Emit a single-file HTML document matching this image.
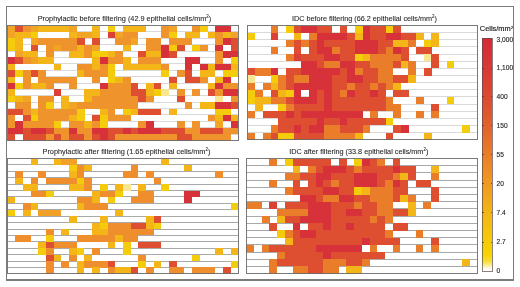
<!DOCTYPE html>
<html><head><meta charset="utf-8">
<style>
html,body{margin:0;padding:0;background:#fff;}
body{width:520px;height:287px;overflow:hidden;}
svg{display:block;filter:blur(0.35px);}
.ti{font-family:"Liberation Sans",sans-serif;font-size:7.5px;fill:#262626;stroke:#262626;stroke-width:0.08px;}
.sup{font-size:4.6px;}
.sup2{font-size:4px;}
.cl{font-family:"Liberation Sans",sans-serif;font-size:6.4px;fill:#222;stroke:#222;stroke-width:0.15px;}
.tk{font-family:"Liberation Sans",sans-serif;font-size:6.6px;fill:#222;stroke:#222;stroke-width:0.12px;}
</style></head>
<body>
<svg width="520" height="287" viewBox="0 0 520 287" shape-rendering="crispEdges">
<rect width="520" height="287" fill="#fff"/>
<rect x="7.50" y="25.50" width="230.90" height="115.00" fill="#fff"/>
<line x1="7.50" x2="238.40" y1="31.89" y2="31.89" stroke="#d9d9d9" stroke-width="1"/>
<line x1="7.50" x2="238.40" y1="38.28" y2="38.28" stroke="#d9d9d9" stroke-width="1"/>
<line x1="7.50" x2="238.40" y1="44.67" y2="44.67" stroke="#d9d9d9" stroke-width="1"/>
<line x1="7.50" x2="238.40" y1="51.06" y2="51.06" stroke="#d9d9d9" stroke-width="1"/>
<line x1="7.50" x2="238.40" y1="57.44" y2="57.44" stroke="#d9d9d9" stroke-width="1"/>
<line x1="7.50" x2="238.40" y1="63.83" y2="63.83" stroke="#d9d9d9" stroke-width="1"/>
<line x1="7.50" x2="238.40" y1="70.22" y2="70.22" stroke="#d9d9d9" stroke-width="1"/>
<line x1="7.50" x2="238.40" y1="76.61" y2="76.61" stroke="#d9d9d9" stroke-width="1"/>
<line x1="7.50" x2="238.40" y1="83.00" y2="83.00" stroke="#d9d9d9" stroke-width="1"/>
<line x1="7.50" x2="238.40" y1="89.39" y2="89.39" stroke="#d9d9d9" stroke-width="1"/>
<line x1="7.50" x2="238.40" y1="95.78" y2="95.78" stroke="#d9d9d9" stroke-width="1"/>
<line x1="7.50" x2="238.40" y1="102.17" y2="102.17" stroke="#d9d9d9" stroke-width="1"/>
<line x1="7.50" x2="238.40" y1="108.56" y2="108.56" stroke="#d9d9d9" stroke-width="1"/>
<line x1="7.50" x2="238.40" y1="114.94" y2="114.94" stroke="#d9d9d9" stroke-width="1"/>
<line x1="7.50" x2="238.40" y1="121.33" y2="121.33" stroke="#d9d9d9" stroke-width="1"/>
<line x1="7.50" x2="238.40" y1="127.72" y2="127.72" stroke="#d9d9d9" stroke-width="1"/>
<line x1="7.50" x2="238.40" y1="134.11" y2="134.11" stroke="#d9d9d9" stroke-width="1"/>
<rect x="7.50" y="25.50" width="7.75" height="6.44" fill="#f2a426"/>
<rect x="15.20" y="25.50" width="7.75" height="6.44" fill="#de4e31"/>
<rect x="22.89" y="25.50" width="7.75" height="6.44" fill="#ef932c"/>
<rect x="30.59" y="25.50" width="7.75" height="6.44" fill="#f2a426"/>
<rect x="38.29" y="25.50" width="7.75" height="6.44" fill="#f3b518"/>
<rect x="45.98" y="25.50" width="7.75" height="6.44" fill="#f3b518"/>
<rect x="53.68" y="25.50" width="7.75" height="6.44" fill="#f3b518"/>
<rect x="61.38" y="25.50" width="7.75" height="6.44" fill="#f3b518"/>
<rect x="69.07" y="25.50" width="7.75" height="6.44" fill="#f2a426"/>
<rect x="92.16" y="25.50" width="7.75" height="6.44" fill="#f3b518"/>
<rect x="107.56" y="25.50" width="7.75" height="6.44" fill="#f5cc0c"/>
<rect x="122.95" y="25.50" width="7.75" height="6.44" fill="#f3b518"/>
<rect x="130.65" y="25.50" width="7.75" height="6.44" fill="#f3b518"/>
<rect x="138.34" y="25.50" width="7.75" height="6.44" fill="#f3b518"/>
<rect x="161.43" y="25.50" width="7.75" height="6.44" fill="#ef932c"/>
<rect x="169.13" y="25.50" width="7.75" height="6.44" fill="#f2a426"/>
<rect x="192.22" y="25.50" width="7.75" height="6.44" fill="#ef932c"/>
<rect x="199.92" y="25.50" width="7.75" height="6.44" fill="#f5cc0c"/>
<rect x="215.31" y="25.50" width="7.75" height="6.44" fill="#d7323a"/>
<rect x="223.01" y="25.50" width="7.75" height="6.44" fill="#d7323a"/>
<rect x="7.50" y="31.89" width="7.75" height="6.44" fill="#f2a426"/>
<rect x="15.20" y="31.89" width="7.75" height="6.44" fill="#f3b518"/>
<rect x="22.89" y="31.89" width="7.75" height="6.44" fill="#f3b518"/>
<rect x="30.59" y="31.89" width="7.75" height="6.44" fill="#f5cc0c"/>
<rect x="69.07" y="31.89" width="7.75" height="6.44" fill="#f3b518"/>
<rect x="76.77" y="31.89" width="7.75" height="6.44" fill="#f2a426"/>
<rect x="84.47" y="31.89" width="7.75" height="6.44" fill="#f2a426"/>
<rect x="92.16" y="31.89" width="7.75" height="6.44" fill="#f3b518"/>
<rect x="107.56" y="31.89" width="7.75" height="6.44" fill="#da4034"/>
<rect x="115.25" y="31.89" width="7.75" height="6.44" fill="#f2a426"/>
<rect x="122.95" y="31.89" width="7.75" height="6.44" fill="#ef932c"/>
<rect x="130.65" y="31.89" width="7.75" height="6.44" fill="#ef932c"/>
<rect x="161.43" y="31.89" width="7.75" height="6.44" fill="#ef932c"/>
<rect x="169.13" y="31.89" width="7.75" height="6.44" fill="#f5cc0c"/>
<rect x="184.52" y="31.89" width="7.75" height="6.44" fill="#f3b518"/>
<rect x="192.22" y="31.89" width="7.75" height="6.44" fill="#f3b518"/>
<rect x="207.61" y="31.89" width="7.75" height="6.44" fill="#f3b518"/>
<rect x="215.31" y="31.89" width="7.75" height="6.44" fill="#ef932c"/>
<rect x="223.01" y="31.89" width="7.75" height="6.44" fill="#f3b518"/>
<rect x="230.70" y="31.89" width="7.75" height="6.44" fill="#f2a426"/>
<rect x="7.50" y="38.28" width="7.75" height="6.44" fill="#f5cc0c"/>
<rect x="15.20" y="38.28" width="7.75" height="6.44" fill="#f3b518"/>
<rect x="30.59" y="38.28" width="7.75" height="6.44" fill="#f2a426"/>
<rect x="38.29" y="38.28" width="7.75" height="6.44" fill="#ef932c"/>
<rect x="45.98" y="38.28" width="7.75" height="6.44" fill="#ef932c"/>
<rect x="53.68" y="38.28" width="7.75" height="6.44" fill="#ef932c"/>
<rect x="61.38" y="38.28" width="7.75" height="6.44" fill="#ef932c"/>
<rect x="69.07" y="38.28" width="7.75" height="6.44" fill="#ef932c"/>
<rect x="76.77" y="38.28" width="7.75" height="6.44" fill="#de4e31"/>
<rect x="92.16" y="38.28" width="7.75" height="6.44" fill="#de4e31"/>
<rect x="115.25" y="38.28" width="7.75" height="6.44" fill="#ef932c"/>
<rect x="122.95" y="38.28" width="7.75" height="6.44" fill="#ef932c"/>
<rect x="130.65" y="38.28" width="7.75" height="6.44" fill="#f2a426"/>
<rect x="146.04" y="38.28" width="7.75" height="6.44" fill="#ef932c"/>
<rect x="153.74" y="38.28" width="7.75" height="6.44" fill="#ef932c"/>
<rect x="169.13" y="38.28" width="7.75" height="6.44" fill="#ef932c"/>
<rect x="176.83" y="38.28" width="7.75" height="6.44" fill="#ef932c"/>
<rect x="184.52" y="38.28" width="7.75" height="6.44" fill="#ef932c"/>
<rect x="215.31" y="38.28" width="7.75" height="6.44" fill="#ef932c"/>
<rect x="223.01" y="38.28" width="7.75" height="6.44" fill="#d7323a"/>
<rect x="230.70" y="38.28" width="7.75" height="6.44" fill="#de4e31"/>
<rect x="7.50" y="44.67" width="7.75" height="6.44" fill="#f5cc0c"/>
<rect x="15.20" y="44.67" width="7.75" height="6.44" fill="#f3b518"/>
<rect x="30.59" y="44.67" width="7.75" height="6.44" fill="#de4e31"/>
<rect x="45.98" y="44.67" width="7.75" height="6.44" fill="#ef932c"/>
<rect x="53.68" y="44.67" width="7.75" height="6.44" fill="#f2a426"/>
<rect x="61.38" y="44.67" width="7.75" height="6.44" fill="#ef932c"/>
<rect x="69.07" y="44.67" width="7.75" height="6.44" fill="#ef932c"/>
<rect x="76.77" y="44.67" width="7.75" height="6.44" fill="#f3b518"/>
<rect x="84.47" y="44.67" width="7.75" height="6.44" fill="#ef932c"/>
<rect x="92.16" y="44.67" width="7.75" height="6.44" fill="#f2a426"/>
<rect x="122.95" y="44.67" width="7.75" height="6.44" fill="#f3b518"/>
<rect x="146.04" y="44.67" width="7.75" height="6.44" fill="#ef932c"/>
<rect x="153.74" y="44.67" width="7.75" height="6.44" fill="#ef932c"/>
<rect x="161.43" y="44.67" width="7.75" height="6.44" fill="#d7323a"/>
<rect x="169.13" y="44.67" width="7.75" height="6.44" fill="#f5cc0c"/>
<rect x="176.83" y="44.67" width="7.75" height="6.44" fill="#de4e31"/>
<rect x="192.22" y="44.67" width="7.75" height="6.44" fill="#f5cc0c"/>
<rect x="199.92" y="44.67" width="7.75" height="6.44" fill="#ef932c"/>
<rect x="215.31" y="44.67" width="7.75" height="6.44" fill="#d7323a"/>
<rect x="230.70" y="44.67" width="7.75" height="6.44" fill="#de4e31"/>
<rect x="15.20" y="51.06" width="7.75" height="6.44" fill="#f2a426"/>
<rect x="22.89" y="51.06" width="7.75" height="6.44" fill="#f3b518"/>
<rect x="30.59" y="51.06" width="7.75" height="6.44" fill="#f3b518"/>
<rect x="45.98" y="51.06" width="7.75" height="6.44" fill="#ef932c"/>
<rect x="69.07" y="51.06" width="7.75" height="6.44" fill="#f3b518"/>
<rect x="76.77" y="51.06" width="7.75" height="6.44" fill="#f3b518"/>
<rect x="84.47" y="51.06" width="7.75" height="6.44" fill="#ef932c"/>
<rect x="92.16" y="51.06" width="7.75" height="6.44" fill="#f5cc0c"/>
<rect x="99.86" y="51.06" width="7.75" height="6.44" fill="#f5cc0c"/>
<rect x="107.56" y="51.06" width="7.75" height="6.44" fill="#f3b518"/>
<rect x="115.25" y="51.06" width="7.75" height="6.44" fill="#ef932c"/>
<rect x="138.34" y="51.06" width="7.75" height="6.44" fill="#de4e31"/>
<rect x="146.04" y="51.06" width="7.75" height="6.44" fill="#f3b518"/>
<rect x="153.74" y="51.06" width="7.75" height="6.44" fill="#f3b518"/>
<rect x="161.43" y="51.06" width="7.75" height="6.44" fill="#d7323a"/>
<rect x="169.13" y="51.06" width="7.75" height="6.44" fill="#de4e31"/>
<rect x="215.31" y="51.06" width="7.75" height="6.44" fill="#ef932c"/>
<rect x="223.01" y="51.06" width="7.75" height="6.44" fill="#d7323a"/>
<rect x="230.70" y="51.06" width="7.75" height="6.44" fill="#d7323a"/>
<rect x="7.50" y="57.44" width="7.75" height="6.44" fill="#d7323a"/>
<rect x="15.20" y="57.44" width="7.75" height="6.44" fill="#de4e31"/>
<rect x="22.89" y="57.44" width="7.75" height="6.44" fill="#ef932c"/>
<rect x="30.59" y="57.44" width="7.75" height="6.44" fill="#f2a426"/>
<rect x="38.29" y="57.44" width="7.75" height="6.44" fill="#f3b518"/>
<rect x="45.98" y="57.44" width="7.75" height="6.44" fill="#f3b518"/>
<rect x="92.16" y="57.44" width="7.75" height="6.44" fill="#f3b518"/>
<rect x="99.86" y="57.44" width="7.75" height="6.44" fill="#d7323a"/>
<rect x="107.56" y="57.44" width="7.75" height="6.44" fill="#ef932c"/>
<rect x="115.25" y="57.44" width="7.75" height="6.44" fill="#ef932c"/>
<rect x="122.95" y="57.44" width="7.75" height="6.44" fill="#f3b518"/>
<rect x="138.34" y="57.44" width="7.75" height="6.44" fill="#ef932c"/>
<rect x="146.04" y="57.44" width="7.75" height="6.44" fill="#ef932c"/>
<rect x="153.74" y="57.44" width="7.75" height="6.44" fill="#ef932c"/>
<rect x="184.52" y="57.44" width="7.75" height="6.44" fill="#d7323a"/>
<rect x="192.22" y="57.44" width="7.75" height="6.44" fill="#d7323a"/>
<rect x="215.31" y="57.44" width="7.75" height="6.44" fill="#ef932c"/>
<rect x="230.70" y="57.44" width="7.75" height="6.44" fill="#f5cc0c"/>
<rect x="7.50" y="63.83" width="7.75" height="6.44" fill="#f3b518"/>
<rect x="53.68" y="63.83" width="7.75" height="6.44" fill="#f3b518"/>
<rect x="76.77" y="63.83" width="7.75" height="6.44" fill="#ef932c"/>
<rect x="84.47" y="63.83" width="7.75" height="6.44" fill="#ef932c"/>
<rect x="92.16" y="63.83" width="7.75" height="6.44" fill="#f3b518"/>
<rect x="99.86" y="63.83" width="7.75" height="6.44" fill="#ef932c"/>
<rect x="107.56" y="63.83" width="7.75" height="6.44" fill="#f5cc0c"/>
<rect x="122.95" y="63.83" width="7.75" height="6.44" fill="#f3b518"/>
<rect x="130.65" y="63.83" width="7.75" height="6.44" fill="#f3b518"/>
<rect x="138.34" y="63.83" width="7.75" height="6.44" fill="#f3b518"/>
<rect x="146.04" y="63.83" width="7.75" height="6.44" fill="#f3b518"/>
<rect x="153.74" y="63.83" width="7.75" height="6.44" fill="#f3b518"/>
<rect x="161.43" y="63.83" width="7.75" height="6.44" fill="#ef932c"/>
<rect x="184.52" y="63.83" width="7.75" height="6.44" fill="#d7323a"/>
<rect x="199.92" y="63.83" width="7.75" height="6.44" fill="#d7323a"/>
<rect x="207.61" y="63.83" width="7.75" height="6.44" fill="#f3b518"/>
<rect x="215.31" y="63.83" width="7.75" height="6.44" fill="#d7323a"/>
<rect x="223.01" y="63.83" width="7.75" height="6.44" fill="#d7323a"/>
<rect x="230.70" y="63.83" width="7.75" height="6.44" fill="#f3b518"/>
<rect x="7.50" y="70.22" width="7.75" height="6.44" fill="#de4e31"/>
<rect x="15.20" y="70.22" width="7.75" height="6.44" fill="#f5cc0c"/>
<rect x="22.89" y="70.22" width="7.75" height="6.44" fill="#ef932c"/>
<rect x="30.59" y="70.22" width="7.75" height="6.44" fill="#de4e31"/>
<rect x="38.29" y="70.22" width="7.75" height="6.44" fill="#ef932c"/>
<rect x="76.77" y="70.22" width="7.75" height="6.44" fill="#f3b518"/>
<rect x="84.47" y="70.22" width="7.75" height="6.44" fill="#ef932c"/>
<rect x="92.16" y="70.22" width="7.75" height="6.44" fill="#ef932c"/>
<rect x="99.86" y="70.22" width="7.75" height="6.44" fill="#ef932c"/>
<rect x="107.56" y="70.22" width="7.75" height="6.44" fill="#f5cc0c"/>
<rect x="161.43" y="70.22" width="7.75" height="6.44" fill="#f5cc0c"/>
<rect x="176.83" y="70.22" width="7.75" height="6.44" fill="#ef932c"/>
<rect x="184.52" y="70.22" width="7.75" height="6.44" fill="#de4e31"/>
<rect x="199.92" y="70.22" width="7.75" height="6.44" fill="#f3b518"/>
<rect x="207.61" y="70.22" width="7.75" height="6.44" fill="#f3b518"/>
<rect x="223.01" y="70.22" width="7.75" height="6.44" fill="#f5cc0c"/>
<rect x="230.70" y="70.22" width="7.75" height="6.44" fill="#f5cc0c"/>
<rect x="7.50" y="76.61" width="7.75" height="6.44" fill="#f3b518"/>
<rect x="22.89" y="76.61" width="7.75" height="6.44" fill="#ef932c"/>
<rect x="38.29" y="76.61" width="7.75" height="6.44" fill="#ef932c"/>
<rect x="45.98" y="76.61" width="7.75" height="6.44" fill="#ef932c"/>
<rect x="53.68" y="76.61" width="7.75" height="6.44" fill="#ef932c"/>
<rect x="61.38" y="76.61" width="7.75" height="6.44" fill="#ef932c"/>
<rect x="69.07" y="76.61" width="7.75" height="6.44" fill="#ef932c"/>
<rect x="92.16" y="76.61" width="7.75" height="6.44" fill="#ef932c"/>
<rect x="107.56" y="76.61" width="7.75" height="6.44" fill="#f5cc0c"/>
<rect x="115.25" y="76.61" width="7.75" height="6.44" fill="#f3b518"/>
<rect x="122.95" y="76.61" width="7.75" height="6.44" fill="#ef932c"/>
<rect x="169.13" y="76.61" width="7.75" height="6.44" fill="#de4e31"/>
<rect x="184.52" y="76.61" width="7.75" height="6.44" fill="#de4e31"/>
<rect x="192.22" y="76.61" width="7.75" height="6.44" fill="#de4e31"/>
<rect x="199.92" y="76.61" width="7.75" height="6.44" fill="#ef932c"/>
<rect x="215.31" y="76.61" width="7.75" height="6.44" fill="#f3b518"/>
<rect x="223.01" y="76.61" width="7.75" height="6.44" fill="#d7323a"/>
<rect x="7.50" y="83.00" width="7.75" height="6.44" fill="#d7323a"/>
<rect x="15.20" y="83.00" width="7.75" height="6.44" fill="#f5cc0c"/>
<rect x="22.89" y="83.00" width="7.75" height="6.44" fill="#ef932c"/>
<rect x="30.59" y="83.00" width="7.75" height="6.44" fill="#f3b518"/>
<rect x="38.29" y="83.00" width="7.75" height="6.44" fill="#f3b518"/>
<rect x="45.98" y="83.00" width="7.75" height="6.44" fill="#ef932c"/>
<rect x="69.07" y="83.00" width="7.75" height="6.44" fill="#ef932c"/>
<rect x="99.86" y="83.00" width="7.75" height="6.44" fill="#d7323a"/>
<rect x="107.56" y="83.00" width="7.75" height="6.44" fill="#ef932c"/>
<rect x="115.25" y="83.00" width="7.75" height="6.44" fill="#ef932c"/>
<rect x="122.95" y="83.00" width="7.75" height="6.44" fill="#ef932c"/>
<rect x="130.65" y="83.00" width="7.75" height="6.44" fill="#de4e31"/>
<rect x="146.04" y="83.00" width="7.75" height="6.44" fill="#f3b518"/>
<rect x="153.74" y="83.00" width="7.75" height="6.44" fill="#de4e31"/>
<rect x="169.13" y="83.00" width="7.75" height="6.44" fill="#f3b518"/>
<rect x="207.61" y="83.00" width="7.75" height="6.44" fill="#f3b518"/>
<rect x="215.31" y="83.00" width="7.75" height="6.44" fill="#d7323a"/>
<rect x="223.01" y="83.00" width="7.75" height="6.44" fill="#ef932c"/>
<rect x="230.70" y="83.00" width="7.75" height="6.44" fill="#ef932c"/>
<rect x="7.50" y="89.39" width="7.75" height="6.44" fill="#f3b518"/>
<rect x="53.68" y="89.39" width="7.75" height="6.44" fill="#da4034"/>
<rect x="84.47" y="89.39" width="7.75" height="6.44" fill="#f3b518"/>
<rect x="92.16" y="89.39" width="7.75" height="6.44" fill="#f3b518"/>
<rect x="99.86" y="89.39" width="7.75" height="6.44" fill="#ef932c"/>
<rect x="107.56" y="89.39" width="7.75" height="6.44" fill="#ef932c"/>
<rect x="115.25" y="89.39" width="7.75" height="6.44" fill="#ef932c"/>
<rect x="122.95" y="89.39" width="7.75" height="6.44" fill="#ef932c"/>
<rect x="130.65" y="89.39" width="7.75" height="6.44" fill="#de4e31"/>
<rect x="138.34" y="89.39" width="7.75" height="6.44" fill="#de4e31"/>
<rect x="146.04" y="89.39" width="7.75" height="6.44" fill="#f3b518"/>
<rect x="153.74" y="89.39" width="7.75" height="6.44" fill="#f5cc0c"/>
<rect x="161.43" y="89.39" width="7.75" height="6.44" fill="#f9e690"/>
<rect x="176.83" y="89.39" width="7.75" height="6.44" fill="#ef932c"/>
<rect x="192.22" y="89.39" width="7.75" height="6.44" fill="#ef932c"/>
<rect x="207.61" y="89.39" width="7.75" height="6.44" fill="#de4e31"/>
<rect x="215.31" y="89.39" width="7.75" height="6.44" fill="#ef932c"/>
<rect x="223.01" y="89.39" width="7.75" height="6.44" fill="#d7323a"/>
<rect x="230.70" y="89.39" width="7.75" height="6.44" fill="#d7323a"/>
<rect x="7.50" y="95.78" width="7.75" height="6.44" fill="#f5cc0c"/>
<rect x="15.20" y="95.78" width="7.75" height="6.44" fill="#f3b518"/>
<rect x="22.89" y="95.78" width="7.75" height="6.44" fill="#f2a426"/>
<rect x="38.29" y="95.78" width="7.75" height="6.44" fill="#ef932c"/>
<rect x="45.98" y="95.78" width="7.75" height="6.44" fill="#ef932c"/>
<rect x="61.38" y="95.78" width="7.75" height="6.44" fill="#f3b518"/>
<rect x="84.47" y="95.78" width="7.75" height="6.44" fill="#f3b518"/>
<rect x="92.16" y="95.78" width="7.75" height="6.44" fill="#ef932c"/>
<rect x="99.86" y="95.78" width="7.75" height="6.44" fill="#ef932c"/>
<rect x="107.56" y="95.78" width="7.75" height="6.44" fill="#ef932c"/>
<rect x="115.25" y="95.78" width="7.75" height="6.44" fill="#ef932c"/>
<rect x="122.95" y="95.78" width="7.75" height="6.44" fill="#ef932c"/>
<rect x="130.65" y="95.78" width="7.75" height="6.44" fill="#ef932c"/>
<rect x="138.34" y="95.78" width="7.75" height="6.44" fill="#de4e31"/>
<rect x="146.04" y="95.78" width="7.75" height="6.44" fill="#ef932c"/>
<rect x="176.83" y="95.78" width="7.75" height="6.44" fill="#de4e31"/>
<rect x="215.31" y="95.78" width="7.75" height="6.44" fill="#f9e690"/>
<rect x="230.70" y="95.78" width="7.75" height="6.44" fill="#ef932c"/>
<rect x="15.20" y="102.17" width="7.75" height="6.44" fill="#ef932c"/>
<rect x="22.89" y="102.17" width="7.75" height="6.44" fill="#ef932c"/>
<rect x="38.29" y="102.17" width="7.75" height="6.44" fill="#ef932c"/>
<rect x="45.98" y="102.17" width="7.75" height="6.44" fill="#f5cc0c"/>
<rect x="61.38" y="102.17" width="7.75" height="6.44" fill="#f3b518"/>
<rect x="69.07" y="102.17" width="7.75" height="6.44" fill="#f2a426"/>
<rect x="76.77" y="102.17" width="7.75" height="6.44" fill="#ef932c"/>
<rect x="84.47" y="102.17" width="7.75" height="6.44" fill="#ef932c"/>
<rect x="92.16" y="102.17" width="7.75" height="6.44" fill="#ef932c"/>
<rect x="99.86" y="102.17" width="7.75" height="6.44" fill="#ef932c"/>
<rect x="107.56" y="102.17" width="7.75" height="6.44" fill="#ef932c"/>
<rect x="115.25" y="102.17" width="7.75" height="6.44" fill="#ef932c"/>
<rect x="122.95" y="102.17" width="7.75" height="6.44" fill="#ef932c"/>
<rect x="130.65" y="102.17" width="7.75" height="6.44" fill="#ef932c"/>
<rect x="184.52" y="102.17" width="7.75" height="6.44" fill="#ef932c"/>
<rect x="199.92" y="102.17" width="7.75" height="6.44" fill="#f3b518"/>
<rect x="207.61" y="102.17" width="7.75" height="6.44" fill="#f3b518"/>
<rect x="215.31" y="102.17" width="7.75" height="6.44" fill="#d7323a"/>
<rect x="223.01" y="102.17" width="7.75" height="6.44" fill="#d7323a"/>
<rect x="230.70" y="102.17" width="7.75" height="6.44" fill="#de4e31"/>
<rect x="7.50" y="108.56" width="7.75" height="6.44" fill="#de4e31"/>
<rect x="15.20" y="108.56" width="7.75" height="6.44" fill="#de4e31"/>
<rect x="22.89" y="108.56" width="7.75" height="6.44" fill="#ef932c"/>
<rect x="30.59" y="108.56" width="7.75" height="6.44" fill="#f3b518"/>
<rect x="38.29" y="108.56" width="7.75" height="6.44" fill="#ef932c"/>
<rect x="45.98" y="108.56" width="7.75" height="6.44" fill="#ef932c"/>
<rect x="53.68" y="108.56" width="7.75" height="6.44" fill="#ef932c"/>
<rect x="61.38" y="108.56" width="7.75" height="6.44" fill="#ef932c"/>
<rect x="69.07" y="108.56" width="7.75" height="6.44" fill="#ef932c"/>
<rect x="76.77" y="108.56" width="7.75" height="6.44" fill="#f5cc0c"/>
<rect x="99.86" y="108.56" width="7.75" height="6.44" fill="#f3b518"/>
<rect x="107.56" y="108.56" width="7.75" height="6.44" fill="#ef932c"/>
<rect x="122.95" y="108.56" width="7.75" height="6.44" fill="#f5cc0c"/>
<rect x="130.65" y="108.56" width="7.75" height="6.44" fill="#f3b518"/>
<rect x="138.34" y="108.56" width="7.75" height="6.44" fill="#de4e31"/>
<rect x="146.04" y="108.56" width="7.75" height="6.44" fill="#de4e31"/>
<rect x="153.74" y="108.56" width="7.75" height="6.44" fill="#de4e31"/>
<rect x="169.13" y="108.56" width="7.75" height="6.44" fill="#f3b518"/>
<rect x="215.31" y="108.56" width="7.75" height="6.44" fill="#f5cc0c"/>
<rect x="223.01" y="108.56" width="7.75" height="6.44" fill="#f5cc0c"/>
<rect x="7.50" y="114.94" width="7.75" height="6.44" fill="#ef932c"/>
<rect x="22.89" y="114.94" width="7.75" height="6.44" fill="#de4e31"/>
<rect x="30.59" y="114.94" width="7.75" height="6.44" fill="#f5cc0c"/>
<rect x="38.29" y="114.94" width="7.75" height="6.44" fill="#ef932c"/>
<rect x="45.98" y="114.94" width="7.75" height="6.44" fill="#ef932c"/>
<rect x="53.68" y="114.94" width="7.75" height="6.44" fill="#ef932c"/>
<rect x="61.38" y="114.94" width="7.75" height="6.44" fill="#ef932c"/>
<rect x="69.07" y="114.94" width="7.75" height="6.44" fill="#f3b518"/>
<rect x="76.77" y="114.94" width="7.75" height="6.44" fill="#f5cc0c"/>
<rect x="92.16" y="114.94" width="7.75" height="6.44" fill="#de4e31"/>
<rect x="99.86" y="114.94" width="7.75" height="6.44" fill="#f5cc0c"/>
<rect x="107.56" y="114.94" width="7.75" height="6.44" fill="#ef932c"/>
<rect x="115.25" y="114.94" width="7.75" height="6.44" fill="#ef932c"/>
<rect x="122.95" y="114.94" width="7.75" height="6.44" fill="#ef932c"/>
<rect x="207.61" y="114.94" width="7.75" height="6.44" fill="#ef932c"/>
<rect x="215.31" y="114.94" width="7.75" height="6.44" fill="#f3b518"/>
<rect x="223.01" y="114.94" width="7.75" height="6.44" fill="#d7323a"/>
<rect x="230.70" y="114.94" width="7.75" height="6.44" fill="#f3b518"/>
<rect x="7.50" y="121.33" width="7.75" height="6.44" fill="#ef932c"/>
<rect x="15.20" y="121.33" width="7.75" height="6.44" fill="#d7323a"/>
<rect x="22.89" y="121.33" width="7.75" height="6.44" fill="#ef932c"/>
<rect x="30.59" y="121.33" width="7.75" height="6.44" fill="#ef932c"/>
<rect x="38.29" y="121.33" width="7.75" height="6.44" fill="#ef932c"/>
<rect x="45.98" y="121.33" width="7.75" height="6.44" fill="#ef932c"/>
<rect x="53.68" y="121.33" width="7.75" height="6.44" fill="#f5cc0c"/>
<rect x="69.07" y="121.33" width="7.75" height="6.44" fill="#ef932c"/>
<rect x="76.77" y="121.33" width="7.75" height="6.44" fill="#ef932c"/>
<rect x="84.47" y="121.33" width="7.75" height="6.44" fill="#f3b518"/>
<rect x="92.16" y="121.33" width="7.75" height="6.44" fill="#ef932c"/>
<rect x="99.86" y="121.33" width="7.75" height="6.44" fill="#f5cc0c"/>
<rect x="138.34" y="121.33" width="7.75" height="6.44" fill="#ef932c"/>
<rect x="146.04" y="121.33" width="7.75" height="6.44" fill="#d7323a"/>
<rect x="176.83" y="121.33" width="7.75" height="6.44" fill="#ef932c"/>
<rect x="192.22" y="121.33" width="7.75" height="6.44" fill="#ef932c"/>
<rect x="215.31" y="121.33" width="7.75" height="6.44" fill="#f2a426"/>
<rect x="230.70" y="121.33" width="7.75" height="6.44" fill="#d7323a"/>
<rect x="7.50" y="127.72" width="7.75" height="6.44" fill="#d7323a"/>
<rect x="15.20" y="127.72" width="7.75" height="6.44" fill="#d7323a"/>
<rect x="22.89" y="127.72" width="7.75" height="6.44" fill="#de4e31"/>
<rect x="30.59" y="127.72" width="7.75" height="6.44" fill="#d7323a"/>
<rect x="38.29" y="127.72" width="7.75" height="6.44" fill="#d7323a"/>
<rect x="45.98" y="127.72" width="7.75" height="6.44" fill="#de4e31"/>
<rect x="53.68" y="127.72" width="7.75" height="6.44" fill="#ef932c"/>
<rect x="61.38" y="127.72" width="7.75" height="6.44" fill="#ef932c"/>
<rect x="69.07" y="127.72" width="7.75" height="6.44" fill="#d7323a"/>
<rect x="76.77" y="127.72" width="7.75" height="6.44" fill="#ef932c"/>
<rect x="84.47" y="127.72" width="7.75" height="6.44" fill="#ef932c"/>
<rect x="92.16" y="127.72" width="7.75" height="6.44" fill="#d7323a"/>
<rect x="99.86" y="127.72" width="7.75" height="6.44" fill="#d7323a"/>
<rect x="107.56" y="127.72" width="7.75" height="6.44" fill="#de4e31"/>
<rect x="115.25" y="127.72" width="7.75" height="6.44" fill="#de4e31"/>
<rect x="122.95" y="127.72" width="7.75" height="6.44" fill="#d7323a"/>
<rect x="130.65" y="127.72" width="7.75" height="6.44" fill="#de4e31"/>
<rect x="138.34" y="127.72" width="7.75" height="6.44" fill="#d7323a"/>
<rect x="146.04" y="127.72" width="7.75" height="6.44" fill="#d7323a"/>
<rect x="153.74" y="127.72" width="7.75" height="6.44" fill="#d7323a"/>
<rect x="161.43" y="127.72" width="7.75" height="6.44" fill="#de4e31"/>
<rect x="169.13" y="127.72" width="7.75" height="6.44" fill="#de4e31"/>
<rect x="176.83" y="127.72" width="7.75" height="6.44" fill="#de4e31"/>
<rect x="184.52" y="127.72" width="7.75" height="6.44" fill="#ef932c"/>
<rect x="192.22" y="127.72" width="7.75" height="6.44" fill="#ef932c"/>
<rect x="199.92" y="127.72" width="7.75" height="6.44" fill="#de4e31"/>
<rect x="207.61" y="127.72" width="7.75" height="6.44" fill="#de4e31"/>
<rect x="215.31" y="127.72" width="7.75" height="6.44" fill="#de4e31"/>
<rect x="223.01" y="127.72" width="7.75" height="6.44" fill="#ef932c"/>
<rect x="230.70" y="127.72" width="7.75" height="6.44" fill="#ef932c"/>
<rect x="7.50" y="134.11" width="7.75" height="6.44" fill="#de4e31"/>
<rect x="22.89" y="134.11" width="7.75" height="6.44" fill="#de4e31"/>
<rect x="30.59" y="134.11" width="7.75" height="6.44" fill="#de4e31"/>
<rect x="38.29" y="134.11" width="7.75" height="6.44" fill="#de4e31"/>
<rect x="45.98" y="134.11" width="7.75" height="6.44" fill="#ef932c"/>
<rect x="53.68" y="134.11" width="7.75" height="6.44" fill="#de4e31"/>
<rect x="61.38" y="134.11" width="7.75" height="6.44" fill="#ef932c"/>
<rect x="69.07" y="134.11" width="7.75" height="6.44" fill="#de4e31"/>
<rect x="76.77" y="134.11" width="7.75" height="6.44" fill="#de4e31"/>
<rect x="84.47" y="134.11" width="7.75" height="6.44" fill="#ef932c"/>
<rect x="92.16" y="134.11" width="7.75" height="6.44" fill="#de4e31"/>
<rect x="99.86" y="134.11" width="7.75" height="6.44" fill="#d7323a"/>
<rect x="107.56" y="134.11" width="7.75" height="6.44" fill="#de4e31"/>
<rect x="115.25" y="134.11" width="7.75" height="6.44" fill="#ef932c"/>
<rect x="122.95" y="134.11" width="7.75" height="6.44" fill="#ef932c"/>
<rect x="130.65" y="134.11" width="7.75" height="6.44" fill="#ef932c"/>
<rect x="138.34" y="134.11" width="7.75" height="6.44" fill="#ef932c"/>
<rect x="146.04" y="134.11" width="7.75" height="6.44" fill="#ef932c"/>
<rect x="153.74" y="134.11" width="7.75" height="6.44" fill="#ef932c"/>
<rect x="161.43" y="134.11" width="7.75" height="6.44" fill="#ef932c"/>
<rect x="169.13" y="134.11" width="7.75" height="6.44" fill="#ef932c"/>
<rect x="176.83" y="134.11" width="7.75" height="6.44" fill="#de4e31"/>
<rect x="184.52" y="134.11" width="7.75" height="6.44" fill="#de4e31"/>
<rect x="192.22" y="134.11" width="7.75" height="6.44" fill="#ef932c"/>
<rect x="199.92" y="134.11" width="7.75" height="6.44" fill="#ef932c"/>
<rect x="207.61" y="134.11" width="7.75" height="6.44" fill="#ef932c"/>
<rect x="215.31" y="134.11" width="7.75" height="6.44" fill="#ef932c"/>
<rect x="223.01" y="134.11" width="7.75" height="6.44" fill="#ef932c"/>
<rect x="7.50" y="25.50" width="230.90" height="115.00" fill="none" stroke="#6a6a6a" stroke-width="0.9"/>
<rect x="247.70" y="25.50" width="229.70" height="114.20" fill="#fff"/>
<line x1="247.70" x2="477.40" y1="32.64" y2="32.64" stroke="#d9d9d9" stroke-width="1"/>
<line x1="247.70" x2="477.40" y1="39.77" y2="39.77" stroke="#d9d9d9" stroke-width="1"/>
<line x1="247.70" x2="477.40" y1="46.91" y2="46.91" stroke="#d9d9d9" stroke-width="1"/>
<line x1="247.70" x2="477.40" y1="54.05" y2="54.05" stroke="#d9d9d9" stroke-width="1"/>
<line x1="247.70" x2="477.40" y1="61.19" y2="61.19" stroke="#d9d9d9" stroke-width="1"/>
<line x1="247.70" x2="477.40" y1="68.32" y2="68.32" stroke="#d9d9d9" stroke-width="1"/>
<line x1="247.70" x2="477.40" y1="75.46" y2="75.46" stroke="#d9d9d9" stroke-width="1"/>
<line x1="247.70" x2="477.40" y1="82.60" y2="82.60" stroke="#d9d9d9" stroke-width="1"/>
<line x1="247.70" x2="477.40" y1="89.74" y2="89.74" stroke="#d9d9d9" stroke-width="1"/>
<line x1="247.70" x2="477.40" y1="96.88" y2="96.88" stroke="#d9d9d9" stroke-width="1"/>
<line x1="247.70" x2="477.40" y1="104.01" y2="104.01" stroke="#d9d9d9" stroke-width="1"/>
<line x1="247.70" x2="477.40" y1="111.15" y2="111.15" stroke="#d9d9d9" stroke-width="1"/>
<line x1="247.70" x2="477.40" y1="118.29" y2="118.29" stroke="#d9d9d9" stroke-width="1"/>
<line x1="247.70" x2="477.40" y1="125.42" y2="125.42" stroke="#d9d9d9" stroke-width="1"/>
<line x1="247.70" x2="477.40" y1="132.56" y2="132.56" stroke="#d9d9d9" stroke-width="1"/>
<rect x="270.67" y="25.50" width="7.71" height="7.19" fill="#e97d2a"/>
<rect x="285.98" y="25.50" width="7.71" height="7.19" fill="#f5cc0c"/>
<rect x="293.64" y="25.50" width="7.71" height="7.19" fill="#de4e31"/>
<rect x="301.30" y="25.50" width="7.71" height="7.19" fill="#d7323a"/>
<rect x="308.95" y="25.50" width="7.71" height="7.19" fill="#d7323a"/>
<rect x="316.61" y="25.50" width="7.71" height="7.19" fill="#de4e31"/>
<rect x="324.27" y="25.50" width="7.71" height="7.19" fill="#de4e31"/>
<rect x="339.58" y="25.50" width="7.71" height="7.19" fill="#de4e31"/>
<rect x="354.89" y="25.50" width="7.71" height="7.19" fill="#f5cc0c"/>
<rect x="362.55" y="25.50" width="7.71" height="7.19" fill="#d7323a"/>
<rect x="370.21" y="25.50" width="7.71" height="7.19" fill="#de4e31"/>
<rect x="377.86" y="25.50" width="7.71" height="7.19" fill="#de4e31"/>
<rect x="385.52" y="25.50" width="7.71" height="7.19" fill="#f5cc0c"/>
<rect x="393.18" y="25.50" width="7.71" height="7.19" fill="#de4e31"/>
<rect x="247.70" y="32.64" width="7.71" height="7.19" fill="#f5cc0c"/>
<rect x="270.67" y="32.64" width="7.71" height="7.19" fill="#da4034"/>
<rect x="293.64" y="32.64" width="7.71" height="7.19" fill="#f3b518"/>
<rect x="308.95" y="32.64" width="7.71" height="7.19" fill="#e97d2a"/>
<rect x="316.61" y="32.64" width="7.71" height="7.19" fill="#d7323a"/>
<rect x="324.27" y="32.64" width="7.71" height="7.19" fill="#d7323a"/>
<rect x="331.92" y="32.64" width="7.71" height="7.19" fill="#d7323a"/>
<rect x="339.58" y="32.64" width="7.71" height="7.19" fill="#d7323a"/>
<rect x="347.24" y="32.64" width="7.71" height="7.19" fill="#de4e31"/>
<rect x="354.89" y="32.64" width="7.71" height="7.19" fill="#f3b518"/>
<rect x="362.55" y="32.64" width="7.71" height="7.19" fill="#d7323a"/>
<rect x="370.21" y="32.64" width="7.71" height="7.19" fill="#de4e31"/>
<rect x="377.86" y="32.64" width="7.71" height="7.19" fill="#de4e31"/>
<rect x="385.52" y="32.64" width="7.71" height="7.19" fill="#d7323a"/>
<rect x="393.18" y="32.64" width="7.71" height="7.19" fill="#d7323a"/>
<rect x="400.83" y="32.64" width="7.71" height="7.19" fill="#de4e31"/>
<rect x="408.49" y="32.64" width="7.71" height="7.19" fill="#de4e31"/>
<rect x="416.15" y="32.64" width="7.71" height="7.19" fill="#f3b518"/>
<rect x="431.46" y="32.64" width="7.71" height="7.19" fill="#f3b518"/>
<rect x="285.98" y="39.77" width="7.71" height="7.19" fill="#e97d2a"/>
<rect x="293.64" y="39.77" width="7.71" height="7.19" fill="#de4e31"/>
<rect x="301.30" y="39.77" width="7.71" height="7.19" fill="#e97d2a"/>
<rect x="308.95" y="39.77" width="7.71" height="7.19" fill="#de4e31"/>
<rect x="316.61" y="39.77" width="7.71" height="7.19" fill="#d7323a"/>
<rect x="324.27" y="39.77" width="7.71" height="7.19" fill="#de4e31"/>
<rect x="331.92" y="39.77" width="7.71" height="7.19" fill="#de4e31"/>
<rect x="339.58" y="39.77" width="7.71" height="7.19" fill="#de4e31"/>
<rect x="347.24" y="39.77" width="7.71" height="7.19" fill="#de4e31"/>
<rect x="354.89" y="39.77" width="7.71" height="7.19" fill="#d7323a"/>
<rect x="362.55" y="39.77" width="7.71" height="7.19" fill="#d7323a"/>
<rect x="370.21" y="39.77" width="7.71" height="7.19" fill="#d7323a"/>
<rect x="377.86" y="39.77" width="7.71" height="7.19" fill="#de4e31"/>
<rect x="385.52" y="39.77" width="7.71" height="7.19" fill="#de4e31"/>
<rect x="393.18" y="39.77" width="7.71" height="7.19" fill="#f3b518"/>
<rect x="400.83" y="39.77" width="7.71" height="7.19" fill="#f3b518"/>
<rect x="408.49" y="39.77" width="7.71" height="7.19" fill="#e97d2a"/>
<rect x="423.80" y="39.77" width="7.71" height="7.19" fill="#f5cc0c"/>
<rect x="431.46" y="39.77" width="7.71" height="7.19" fill="#f3b518"/>
<rect x="270.67" y="46.91" width="7.71" height="7.19" fill="#e97d2a"/>
<rect x="293.64" y="46.91" width="7.71" height="7.19" fill="#de4e31"/>
<rect x="308.95" y="46.91" width="7.71" height="7.19" fill="#de4e31"/>
<rect x="316.61" y="46.91" width="7.71" height="7.19" fill="#d7323a"/>
<rect x="324.27" y="46.91" width="7.71" height="7.19" fill="#d7323a"/>
<rect x="331.92" y="46.91" width="7.71" height="7.19" fill="#e97d2a"/>
<rect x="339.58" y="46.91" width="7.71" height="7.19" fill="#de4e31"/>
<rect x="347.24" y="46.91" width="7.71" height="7.19" fill="#de4e31"/>
<rect x="354.89" y="46.91" width="7.71" height="7.19" fill="#d7323a"/>
<rect x="362.55" y="46.91" width="7.71" height="7.19" fill="#d7323a"/>
<rect x="370.21" y="46.91" width="7.71" height="7.19" fill="#d7323a"/>
<rect x="377.86" y="46.91" width="7.71" height="7.19" fill="#de4e31"/>
<rect x="385.52" y="46.91" width="7.71" height="7.19" fill="#e97d2a"/>
<rect x="393.18" y="46.91" width="7.71" height="7.19" fill="#d7323a"/>
<rect x="400.83" y="46.91" width="7.71" height="7.19" fill="#de4e31"/>
<rect x="416.15" y="46.91" width="7.71" height="7.19" fill="#de4e31"/>
<rect x="423.80" y="46.91" width="7.71" height="7.19" fill="#de4e31"/>
<rect x="285.98" y="54.05" width="7.71" height="7.19" fill="#e97d2a"/>
<rect x="293.64" y="54.05" width="7.71" height="7.19" fill="#da4034"/>
<rect x="301.30" y="54.05" width="7.71" height="7.19" fill="#de4e31"/>
<rect x="308.95" y="54.05" width="7.71" height="7.19" fill="#de4e31"/>
<rect x="316.61" y="54.05" width="7.71" height="7.19" fill="#de4e31"/>
<rect x="324.27" y="54.05" width="7.71" height="7.19" fill="#d7323a"/>
<rect x="331.92" y="54.05" width="7.71" height="7.19" fill="#d7323a"/>
<rect x="339.58" y="54.05" width="7.71" height="7.19" fill="#de4e31"/>
<rect x="347.24" y="54.05" width="7.71" height="7.19" fill="#de4e31"/>
<rect x="354.89" y="54.05" width="7.71" height="7.19" fill="#f5cc0c"/>
<rect x="362.55" y="54.05" width="7.71" height="7.19" fill="#f3b518"/>
<rect x="370.21" y="54.05" width="7.71" height="7.19" fill="#e97d2a"/>
<rect x="377.86" y="54.05" width="7.71" height="7.19" fill="#e97d2a"/>
<rect x="385.52" y="54.05" width="7.71" height="7.19" fill="#e97d2a"/>
<rect x="393.18" y="54.05" width="7.71" height="7.19" fill="#e97d2a"/>
<rect x="400.83" y="54.05" width="7.71" height="7.19" fill="#de4e31"/>
<rect x="423.80" y="54.05" width="7.71" height="7.19" fill="#f9e690"/>
<rect x="431.46" y="54.05" width="7.71" height="7.19" fill="#de4e31"/>
<rect x="301.30" y="61.19" width="7.71" height="7.19" fill="#d7323a"/>
<rect x="308.95" y="61.19" width="7.71" height="7.19" fill="#d7323a"/>
<rect x="316.61" y="61.19" width="7.71" height="7.19" fill="#de4e31"/>
<rect x="324.27" y="61.19" width="7.71" height="7.19" fill="#e97d2a"/>
<rect x="331.92" y="61.19" width="7.71" height="7.19" fill="#e97d2a"/>
<rect x="339.58" y="61.19" width="7.71" height="7.19" fill="#d7323a"/>
<rect x="347.24" y="61.19" width="7.71" height="7.19" fill="#d7323a"/>
<rect x="354.89" y="61.19" width="7.71" height="7.19" fill="#de4e31"/>
<rect x="362.55" y="61.19" width="7.71" height="7.19" fill="#de4e31"/>
<rect x="370.21" y="61.19" width="7.71" height="7.19" fill="#e97d2a"/>
<rect x="377.86" y="61.19" width="7.71" height="7.19" fill="#e97d2a"/>
<rect x="385.52" y="61.19" width="7.71" height="7.19" fill="#e97d2a"/>
<rect x="393.18" y="61.19" width="7.71" height="7.19" fill="#de4e31"/>
<rect x="400.83" y="61.19" width="7.71" height="7.19" fill="#f3b518"/>
<rect x="408.49" y="61.19" width="7.71" height="7.19" fill="#e97d2a"/>
<rect x="431.46" y="61.19" width="7.71" height="7.19" fill="#de4e31"/>
<rect x="446.77" y="61.19" width="7.71" height="7.19" fill="#f5cc0c"/>
<rect x="247.70" y="68.32" width="7.71" height="7.19" fill="#de4e31"/>
<rect x="255.36" y="68.32" width="7.71" height="7.19" fill="#e97d2a"/>
<rect x="263.01" y="68.32" width="7.71" height="7.19" fill="#e97d2a"/>
<rect x="270.67" y="68.32" width="7.71" height="7.19" fill="#d7323a"/>
<rect x="285.98" y="68.32" width="7.71" height="7.19" fill="#de4e31"/>
<rect x="293.64" y="68.32" width="7.71" height="7.19" fill="#de4e31"/>
<rect x="301.30" y="68.32" width="7.71" height="7.19" fill="#d7323a"/>
<rect x="308.95" y="68.32" width="7.71" height="7.19" fill="#d7323a"/>
<rect x="316.61" y="68.32" width="7.71" height="7.19" fill="#d7323a"/>
<rect x="324.27" y="68.32" width="7.71" height="7.19" fill="#d7323a"/>
<rect x="331.92" y="68.32" width="7.71" height="7.19" fill="#d7323a"/>
<rect x="339.58" y="68.32" width="7.71" height="7.19" fill="#de4e31"/>
<rect x="347.24" y="68.32" width="7.71" height="7.19" fill="#d7323a"/>
<rect x="354.89" y="68.32" width="7.71" height="7.19" fill="#e97d2a"/>
<rect x="362.55" y="68.32" width="7.71" height="7.19" fill="#de4e31"/>
<rect x="370.21" y="68.32" width="7.71" height="7.19" fill="#de4e31"/>
<rect x="377.86" y="68.32" width="7.71" height="7.19" fill="#e97d2a"/>
<rect x="385.52" y="68.32" width="7.71" height="7.19" fill="#e97d2a"/>
<rect x="408.49" y="68.32" width="7.71" height="7.19" fill="#e97d2a"/>
<rect x="423.80" y="68.32" width="7.71" height="7.19" fill="#de4e31"/>
<rect x="247.70" y="75.46" width="7.71" height="7.19" fill="#f9e690"/>
<rect x="270.67" y="75.46" width="7.71" height="7.19" fill="#f5cc0c"/>
<rect x="278.33" y="75.46" width="7.71" height="7.19" fill="#e97d2a"/>
<rect x="285.98" y="75.46" width="7.71" height="7.19" fill="#de4e31"/>
<rect x="293.64" y="75.46" width="7.71" height="7.19" fill="#e97d2a"/>
<rect x="301.30" y="75.46" width="7.71" height="7.19" fill="#e97d2a"/>
<rect x="308.95" y="75.46" width="7.71" height="7.19" fill="#d7323a"/>
<rect x="316.61" y="75.46" width="7.71" height="7.19" fill="#d7323a"/>
<rect x="324.27" y="75.46" width="7.71" height="7.19" fill="#d7323a"/>
<rect x="331.92" y="75.46" width="7.71" height="7.19" fill="#de4e31"/>
<rect x="339.58" y="75.46" width="7.71" height="7.19" fill="#de4e31"/>
<rect x="347.24" y="75.46" width="7.71" height="7.19" fill="#d7323a"/>
<rect x="354.89" y="75.46" width="7.71" height="7.19" fill="#d7323a"/>
<rect x="362.55" y="75.46" width="7.71" height="7.19" fill="#de4e31"/>
<rect x="370.21" y="75.46" width="7.71" height="7.19" fill="#de4e31"/>
<rect x="377.86" y="75.46" width="7.71" height="7.19" fill="#e97d2a"/>
<rect x="385.52" y="75.46" width="7.71" height="7.19" fill="#e97d2a"/>
<rect x="393.18" y="75.46" width="7.71" height="7.19" fill="#de4e31"/>
<rect x="400.83" y="75.46" width="7.71" height="7.19" fill="#de4e31"/>
<rect x="408.49" y="75.46" width="7.71" height="7.19" fill="#f3b518"/>
<rect x="247.70" y="82.60" width="7.71" height="7.19" fill="#e97d2a"/>
<rect x="263.01" y="82.60" width="7.71" height="7.19" fill="#e97d2a"/>
<rect x="270.67" y="82.60" width="7.71" height="7.19" fill="#f3b518"/>
<rect x="278.33" y="82.60" width="7.71" height="7.19" fill="#e97d2a"/>
<rect x="285.98" y="82.60" width="7.71" height="7.19" fill="#de4e31"/>
<rect x="293.64" y="82.60" width="7.71" height="7.19" fill="#d7323a"/>
<rect x="301.30" y="82.60" width="7.71" height="7.19" fill="#d7323a"/>
<rect x="308.95" y="82.60" width="7.71" height="7.19" fill="#d7323a"/>
<rect x="316.61" y="82.60" width="7.71" height="7.19" fill="#d7323a"/>
<rect x="324.27" y="82.60" width="7.71" height="7.19" fill="#d7323a"/>
<rect x="331.92" y="82.60" width="7.71" height="7.19" fill="#de4e31"/>
<rect x="339.58" y="82.60" width="7.71" height="7.19" fill="#de4e31"/>
<rect x="347.24" y="82.60" width="7.71" height="7.19" fill="#e97d2a"/>
<rect x="354.89" y="82.60" width="7.71" height="7.19" fill="#de4e31"/>
<rect x="362.55" y="82.60" width="7.71" height="7.19" fill="#de4e31"/>
<rect x="370.21" y="82.60" width="7.71" height="7.19" fill="#e97d2a"/>
<rect x="377.86" y="82.60" width="7.71" height="7.19" fill="#de4e31"/>
<rect x="385.52" y="82.60" width="7.71" height="7.19" fill="#e97d2a"/>
<rect x="393.18" y="82.60" width="7.71" height="7.19" fill="#f3b518"/>
<rect x="247.70" y="89.74" width="7.71" height="7.19" fill="#f5cc0c"/>
<rect x="255.36" y="89.74" width="7.71" height="7.19" fill="#e97d2a"/>
<rect x="270.67" y="89.74" width="7.71" height="7.19" fill="#de4e31"/>
<rect x="278.33" y="89.74" width="7.71" height="7.19" fill="#f3b518"/>
<rect x="285.98" y="89.74" width="7.71" height="7.19" fill="#f5cc0c"/>
<rect x="293.64" y="89.74" width="7.71" height="7.19" fill="#d7323a"/>
<rect x="308.95" y="89.74" width="7.71" height="7.19" fill="#d7323a"/>
<rect x="316.61" y="89.74" width="7.71" height="7.19" fill="#de4e31"/>
<rect x="324.27" y="89.74" width="7.71" height="7.19" fill="#d7323a"/>
<rect x="331.92" y="89.74" width="7.71" height="7.19" fill="#de4e31"/>
<rect x="339.58" y="89.74" width="7.71" height="7.19" fill="#e97d2a"/>
<rect x="347.24" y="89.74" width="7.71" height="7.19" fill="#d7323a"/>
<rect x="354.89" y="89.74" width="7.71" height="7.19" fill="#de4e31"/>
<rect x="362.55" y="89.74" width="7.71" height="7.19" fill="#de4e31"/>
<rect x="370.21" y="89.74" width="7.71" height="7.19" fill="#d7323a"/>
<rect x="377.86" y="89.74" width="7.71" height="7.19" fill="#de4e31"/>
<rect x="393.18" y="89.74" width="7.71" height="7.19" fill="#de4e31"/>
<rect x="400.83" y="89.74" width="7.71" height="7.19" fill="#de4e31"/>
<rect x="247.70" y="96.88" width="7.71" height="7.19" fill="#f5cc0c"/>
<rect x="255.36" y="96.88" width="7.71" height="7.19" fill="#f3b518"/>
<rect x="263.01" y="96.88" width="7.71" height="7.19" fill="#f3b518"/>
<rect x="270.67" y="96.88" width="7.71" height="7.19" fill="#e97d2a"/>
<rect x="278.33" y="96.88" width="7.71" height="7.19" fill="#e97d2a"/>
<rect x="285.98" y="96.88" width="7.71" height="7.19" fill="#de4e31"/>
<rect x="293.64" y="96.88" width="7.71" height="7.19" fill="#d7323a"/>
<rect x="301.30" y="96.88" width="7.71" height="7.19" fill="#d7323a"/>
<rect x="308.95" y="96.88" width="7.71" height="7.19" fill="#d7323a"/>
<rect x="316.61" y="96.88" width="7.71" height="7.19" fill="#de4e31"/>
<rect x="324.27" y="96.88" width="7.71" height="7.19" fill="#d7323a"/>
<rect x="331.92" y="96.88" width="7.71" height="7.19" fill="#de4e31"/>
<rect x="339.58" y="96.88" width="7.71" height="7.19" fill="#de4e31"/>
<rect x="347.24" y="96.88" width="7.71" height="7.19" fill="#de4e31"/>
<rect x="354.89" y="96.88" width="7.71" height="7.19" fill="#de4e31"/>
<rect x="362.55" y="96.88" width="7.71" height="7.19" fill="#de4e31"/>
<rect x="370.21" y="96.88" width="7.71" height="7.19" fill="#de4e31"/>
<rect x="377.86" y="96.88" width="7.71" height="7.19" fill="#de4e31"/>
<rect x="385.52" y="96.88" width="7.71" height="7.19" fill="#e97d2a"/>
<rect x="416.15" y="96.88" width="7.71" height="7.19" fill="#e97d2a"/>
<rect x="446.77" y="96.88" width="7.71" height="7.19" fill="#f5cc0c"/>
<rect x="255.36" y="104.01" width="7.71" height="7.19" fill="#f3b518"/>
<rect x="278.33" y="104.01" width="7.71" height="7.19" fill="#f5cc0c"/>
<rect x="285.98" y="104.01" width="7.71" height="7.19" fill="#e97d2a"/>
<rect x="293.64" y="104.01" width="7.71" height="7.19" fill="#de4e31"/>
<rect x="301.30" y="104.01" width="7.71" height="7.19" fill="#de4e31"/>
<rect x="308.95" y="104.01" width="7.71" height="7.19" fill="#de4e31"/>
<rect x="316.61" y="104.01" width="7.71" height="7.19" fill="#de4e31"/>
<rect x="324.27" y="104.01" width="7.71" height="7.19" fill="#d7323a"/>
<rect x="331.92" y="104.01" width="7.71" height="7.19" fill="#de4e31"/>
<rect x="339.58" y="104.01" width="7.71" height="7.19" fill="#de4e31"/>
<rect x="347.24" y="104.01" width="7.71" height="7.19" fill="#de4e31"/>
<rect x="354.89" y="104.01" width="7.71" height="7.19" fill="#de4e31"/>
<rect x="362.55" y="104.01" width="7.71" height="7.19" fill="#de4e31"/>
<rect x="370.21" y="104.01" width="7.71" height="7.19" fill="#de4e31"/>
<rect x="377.86" y="104.01" width="7.71" height="7.19" fill="#de4e31"/>
<rect x="385.52" y="104.01" width="7.71" height="7.19" fill="#e97d2a"/>
<rect x="393.18" y="104.01" width="7.71" height="7.19" fill="#e97d2a"/>
<rect x="431.46" y="104.01" width="7.71" height="7.19" fill="#de4e31"/>
<rect x="247.70" y="111.15" width="7.71" height="7.19" fill="#e97d2a"/>
<rect x="263.01" y="111.15" width="7.71" height="7.19" fill="#de4e31"/>
<rect x="270.67" y="111.15" width="7.71" height="7.19" fill="#de4e31"/>
<rect x="278.33" y="111.15" width="7.71" height="7.19" fill="#de4e31"/>
<rect x="285.98" y="111.15" width="7.71" height="7.19" fill="#d7323a"/>
<rect x="293.64" y="111.15" width="7.71" height="7.19" fill="#de4e31"/>
<rect x="301.30" y="111.15" width="7.71" height="7.19" fill="#d7323a"/>
<rect x="308.95" y="111.15" width="7.71" height="7.19" fill="#d7323a"/>
<rect x="316.61" y="111.15" width="7.71" height="7.19" fill="#d7323a"/>
<rect x="324.27" y="111.15" width="7.71" height="7.19" fill="#d7323a"/>
<rect x="331.92" y="111.15" width="7.71" height="7.19" fill="#d7323a"/>
<rect x="339.58" y="111.15" width="7.71" height="7.19" fill="#d7323a"/>
<rect x="347.24" y="111.15" width="7.71" height="7.19" fill="#d7323a"/>
<rect x="354.89" y="111.15" width="7.71" height="7.19" fill="#d7323a"/>
<rect x="370.21" y="111.15" width="7.71" height="7.19" fill="#e97d2a"/>
<rect x="393.18" y="111.15" width="7.71" height="7.19" fill="#e97d2a"/>
<rect x="416.15" y="111.15" width="7.71" height="7.19" fill="#e97d2a"/>
<rect x="431.46" y="111.15" width="7.71" height="7.19" fill="#e97d2a"/>
<rect x="278.33" y="118.29" width="7.71" height="7.19" fill="#de4e31"/>
<rect x="285.98" y="118.29" width="7.71" height="7.19" fill="#de4e31"/>
<rect x="293.64" y="118.29" width="7.71" height="7.19" fill="#de4e31"/>
<rect x="301.30" y="118.29" width="7.71" height="7.19" fill="#de4e31"/>
<rect x="308.95" y="118.29" width="7.71" height="7.19" fill="#de4e31"/>
<rect x="316.61" y="118.29" width="7.71" height="7.19" fill="#d7323a"/>
<rect x="324.27" y="118.29" width="7.71" height="7.19" fill="#de4e31"/>
<rect x="331.92" y="118.29" width="7.71" height="7.19" fill="#de4e31"/>
<rect x="339.58" y="118.29" width="7.71" height="7.19" fill="#d7323a"/>
<rect x="347.24" y="118.29" width="7.71" height="7.19" fill="#de4e31"/>
<rect x="354.89" y="118.29" width="7.71" height="7.19" fill="#de4e31"/>
<rect x="362.55" y="118.29" width="7.71" height="7.19" fill="#de4e31"/>
<rect x="370.21" y="118.29" width="7.71" height="7.19" fill="#de4e31"/>
<rect x="377.86" y="118.29" width="7.71" height="7.19" fill="#de4e31"/>
<rect x="385.52" y="118.29" width="7.71" height="7.19" fill="#f5cc0c"/>
<rect x="270.67" y="125.42" width="7.71" height="7.19" fill="#e97d2a"/>
<rect x="278.33" y="125.42" width="7.71" height="7.19" fill="#de4e31"/>
<rect x="285.98" y="125.42" width="7.71" height="7.19" fill="#de4e31"/>
<rect x="293.64" y="125.42" width="7.71" height="7.19" fill="#d7323a"/>
<rect x="301.30" y="125.42" width="7.71" height="7.19" fill="#de4e31"/>
<rect x="308.95" y="125.42" width="7.71" height="7.19" fill="#d7323a"/>
<rect x="316.61" y="125.42" width="7.71" height="7.19" fill="#d7323a"/>
<rect x="324.27" y="125.42" width="7.71" height="7.19" fill="#e97d2a"/>
<rect x="331.92" y="125.42" width="7.71" height="7.19" fill="#e97d2a"/>
<rect x="339.58" y="125.42" width="7.71" height="7.19" fill="#de4e31"/>
<rect x="347.24" y="125.42" width="7.71" height="7.19" fill="#de4e31"/>
<rect x="354.89" y="125.42" width="7.71" height="7.19" fill="#de4e31"/>
<rect x="362.55" y="125.42" width="7.71" height="7.19" fill="#e97d2a"/>
<rect x="393.18" y="125.42" width="7.71" height="7.19" fill="#de4e31"/>
<rect x="400.83" y="125.42" width="7.71" height="7.19" fill="#d7323a"/>
<rect x="462.09" y="125.42" width="7.71" height="7.19" fill="#f5cc0c"/>
<rect x="247.70" y="132.56" width="7.71" height="7.19" fill="#e97d2a"/>
<rect x="263.01" y="132.56" width="7.71" height="7.19" fill="#e97d2a"/>
<rect x="270.67" y="132.56" width="7.71" height="7.19" fill="#de4e31"/>
<rect x="278.33" y="132.56" width="7.71" height="7.19" fill="#f5cc0c"/>
<rect x="285.98" y="132.56" width="7.71" height="7.19" fill="#f5cc0c"/>
<rect x="293.64" y="132.56" width="7.71" height="7.19" fill="#de4e31"/>
<rect x="301.30" y="132.56" width="7.71" height="7.19" fill="#de4e31"/>
<rect x="308.95" y="132.56" width="7.71" height="7.19" fill="#de4e31"/>
<rect x="316.61" y="132.56" width="7.71" height="7.19" fill="#de4e31"/>
<rect x="324.27" y="132.56" width="7.71" height="7.19" fill="#e97d2a"/>
<rect x="331.92" y="132.56" width="7.71" height="7.19" fill="#e97d2a"/>
<rect x="339.58" y="132.56" width="7.71" height="7.19" fill="#e97d2a"/>
<rect x="347.24" y="132.56" width="7.71" height="7.19" fill="#e97d2a"/>
<rect x="354.89" y="132.56" width="7.71" height="7.19" fill="#f3b518"/>
<rect x="385.52" y="132.56" width="7.71" height="7.19" fill="#de4e31"/>
<rect x="423.80" y="132.56" width="7.71" height="7.19" fill="#f3b518"/>
<rect x="247.70" y="25.50" width="229.70" height="114.20" fill="none" stroke="#6a6a6a" stroke-width="0.9"/>
<rect x="7.50" y="158.50" width="230.80" height="115.40" fill="#fff"/>
<line x1="7.50" x2="238.30" y1="164.91" y2="164.91" stroke="#a9a9a9" stroke-width="1"/>
<line x1="7.50" x2="238.30" y1="171.32" y2="171.32" stroke="#a9a9a9" stroke-width="1"/>
<line x1="7.50" x2="238.30" y1="177.73" y2="177.73" stroke="#a9a9a9" stroke-width="1"/>
<line x1="7.50" x2="238.30" y1="184.14" y2="184.14" stroke="#a9a9a9" stroke-width="1"/>
<line x1="7.50" x2="238.30" y1="190.56" y2="190.56" stroke="#a9a9a9" stroke-width="1"/>
<line x1="7.50" x2="238.30" y1="196.97" y2="196.97" stroke="#a9a9a9" stroke-width="1"/>
<line x1="7.50" x2="238.30" y1="203.38" y2="203.38" stroke="#a9a9a9" stroke-width="1"/>
<line x1="7.50" x2="238.30" y1="209.79" y2="209.79" stroke="#a9a9a9" stroke-width="1"/>
<line x1="7.50" x2="238.30" y1="216.20" y2="216.20" stroke="#a9a9a9" stroke-width="1"/>
<line x1="7.50" x2="238.30" y1="222.61" y2="222.61" stroke="#a9a9a9" stroke-width="1"/>
<line x1="7.50" x2="238.30" y1="229.02" y2="229.02" stroke="#a9a9a9" stroke-width="1"/>
<line x1="7.50" x2="238.30" y1="235.43" y2="235.43" stroke="#a9a9a9" stroke-width="1"/>
<line x1="7.50" x2="238.30" y1="241.84" y2="241.84" stroke="#a9a9a9" stroke-width="1"/>
<line x1="7.50" x2="238.30" y1="248.26" y2="248.26" stroke="#a9a9a9" stroke-width="1"/>
<line x1="7.50" x2="238.30" y1="254.67" y2="254.67" stroke="#a9a9a9" stroke-width="1"/>
<line x1="7.50" x2="238.30" y1="261.08" y2="261.08" stroke="#a9a9a9" stroke-width="1"/>
<line x1="7.50" x2="238.30" y1="267.49" y2="267.49" stroke="#a9a9a9" stroke-width="1"/>
<rect x="30.58" y="158.50" width="7.74" height="6.46" fill="#f3b518"/>
<rect x="53.66" y="158.50" width="7.74" height="6.46" fill="#f3b518"/>
<rect x="61.35" y="158.50" width="7.74" height="6.46" fill="#f1a028"/>
<rect x="69.05" y="158.50" width="7.74" height="6.46" fill="#f1a028"/>
<rect x="161.37" y="158.50" width="7.74" height="6.46" fill="#f3b518"/>
<rect x="69.05" y="164.91" width="7.74" height="6.46" fill="#f5cc0c"/>
<rect x="76.74" y="164.91" width="7.74" height="6.46" fill="#ee8e2c"/>
<rect x="84.43" y="164.91" width="7.74" height="6.46" fill="#f3b518"/>
<rect x="130.59" y="164.91" width="7.74" height="6.46" fill="#ee8e2c"/>
<rect x="184.45" y="164.91" width="7.74" height="6.46" fill="#f3b518"/>
<rect x="15.19" y="171.32" width="7.74" height="6.46" fill="#ee8e2c"/>
<rect x="38.27" y="171.32" width="7.74" height="6.46" fill="#ee8e2c"/>
<rect x="69.05" y="171.32" width="7.74" height="6.46" fill="#f3b518"/>
<rect x="76.74" y="171.32" width="7.74" height="6.46" fill="#ee8e2c"/>
<rect x="122.90" y="171.32" width="7.74" height="6.46" fill="#ee8e2c"/>
<rect x="130.59" y="171.32" width="7.74" height="6.46" fill="#ee8e2c"/>
<rect x="145.98" y="171.32" width="7.74" height="6.46" fill="#ee8e2c"/>
<rect x="215.22" y="171.32" width="7.74" height="6.46" fill="#ee8e2c"/>
<rect x="15.19" y="177.73" width="7.74" height="6.46" fill="#f3b518"/>
<rect x="30.58" y="177.73" width="7.74" height="6.46" fill="#ee8e2c"/>
<rect x="45.97" y="177.73" width="7.74" height="6.46" fill="#ee8e2c"/>
<rect x="53.66" y="177.73" width="7.74" height="6.46" fill="#ee8e2c"/>
<rect x="61.35" y="177.73" width="7.74" height="6.46" fill="#ee8e2c"/>
<rect x="69.05" y="177.73" width="7.74" height="6.46" fill="#ee8e2c"/>
<rect x="76.74" y="177.73" width="7.74" height="6.46" fill="#f5cc0c"/>
<rect x="84.43" y="177.73" width="7.74" height="6.46" fill="#ee8e2c"/>
<rect x="153.67" y="177.73" width="7.74" height="6.46" fill="#ee8e2c"/>
<rect x="22.89" y="184.14" width="7.74" height="6.46" fill="#f3b518"/>
<rect x="30.58" y="184.14" width="7.74" height="6.46" fill="#f3b518"/>
<rect x="69.05" y="184.14" width="7.74" height="6.46" fill="#f3b518"/>
<rect x="76.74" y="184.14" width="7.74" height="6.46" fill="#f3b518"/>
<rect x="84.43" y="184.14" width="7.74" height="6.46" fill="#ee8e2c"/>
<rect x="99.82" y="184.14" width="7.74" height="6.46" fill="#f5cc0c"/>
<rect x="115.21" y="184.14" width="7.74" height="6.46" fill="#f3b518"/>
<rect x="122.90" y="184.14" width="7.74" height="6.46" fill="#f9e690"/>
<rect x="138.29" y="184.14" width="7.74" height="6.46" fill="#f3b518"/>
<rect x="161.37" y="184.14" width="7.74" height="6.46" fill="#f5cc0c"/>
<rect x="30.58" y="190.56" width="7.74" height="6.46" fill="#ee8e2c"/>
<rect x="38.27" y="190.56" width="7.74" height="6.46" fill="#ee8e2c"/>
<rect x="45.97" y="190.56" width="7.74" height="6.46" fill="#f5cc0c"/>
<rect x="92.13" y="190.56" width="7.74" height="6.46" fill="#f3b518"/>
<rect x="99.82" y="190.56" width="7.74" height="6.46" fill="#ee8e2c"/>
<rect x="107.51" y="190.56" width="7.74" height="6.46" fill="#ee8e2c"/>
<rect x="115.21" y="190.56" width="7.74" height="6.46" fill="#f5cc0c"/>
<rect x="138.29" y="190.56" width="7.74" height="6.46" fill="#ee8e2c"/>
<rect x="145.98" y="190.56" width="7.74" height="6.46" fill="#ee8e2c"/>
<rect x="184.45" y="190.56" width="7.74" height="6.46" fill="#d7323a"/>
<rect x="192.14" y="190.56" width="7.74" height="6.46" fill="#d7323a"/>
<rect x="7.50" y="196.97" width="7.74" height="6.46" fill="#f3b518"/>
<rect x="76.74" y="196.97" width="7.74" height="6.46" fill="#ee8e2c"/>
<rect x="84.43" y="196.97" width="7.74" height="6.46" fill="#ee8e2c"/>
<rect x="92.13" y="196.97" width="7.74" height="6.46" fill="#f3b518"/>
<rect x="107.51" y="196.97" width="7.74" height="6.46" fill="#f5cc0c"/>
<rect x="130.59" y="196.97" width="7.74" height="6.46" fill="#ee8e2c"/>
<rect x="138.29" y="196.97" width="7.74" height="6.46" fill="#ee8e2c"/>
<rect x="145.98" y="196.97" width="7.74" height="6.46" fill="#ee8e2c"/>
<rect x="184.45" y="196.97" width="7.74" height="6.46" fill="#d7323a"/>
<rect x="22.89" y="203.38" width="7.74" height="6.46" fill="#ee8e2c"/>
<rect x="30.58" y="203.38" width="7.74" height="6.46" fill="#f3b518"/>
<rect x="76.74" y="203.38" width="7.74" height="6.46" fill="#f3b518"/>
<rect x="84.43" y="203.38" width="7.74" height="6.46" fill="#ee8e2c"/>
<rect x="92.13" y="203.38" width="7.74" height="6.46" fill="#ee8e2c"/>
<rect x="99.82" y="203.38" width="7.74" height="6.46" fill="#ee8e2c"/>
<rect x="230.61" y="203.38" width="7.74" height="6.46" fill="#f5cc0c"/>
<rect x="7.50" y="209.79" width="7.74" height="6.46" fill="#f5cc0c"/>
<rect x="22.89" y="209.79" width="7.74" height="6.46" fill="#f3b518"/>
<rect x="38.27" y="209.79" width="7.74" height="6.46" fill="#f1a028"/>
<rect x="45.97" y="209.79" width="7.74" height="6.46" fill="#f1a028"/>
<rect x="53.66" y="209.79" width="7.74" height="6.46" fill="#f1a028"/>
<rect x="115.21" y="209.79" width="7.74" height="6.46" fill="#f3b518"/>
<rect x="69.05" y="216.20" width="7.74" height="6.46" fill="#f3b518"/>
<rect x="99.82" y="216.20" width="7.74" height="6.46" fill="#f3b518"/>
<rect x="145.98" y="216.20" width="7.74" height="6.46" fill="#f3b518"/>
<rect x="153.67" y="216.20" width="7.74" height="6.46" fill="#de4e31"/>
<rect x="92.13" y="222.61" width="7.74" height="6.46" fill="#f3b518"/>
<rect x="99.82" y="222.61" width="7.74" height="6.46" fill="#f5cc0c"/>
<rect x="107.51" y="222.61" width="7.74" height="6.46" fill="#ee8e2c"/>
<rect x="115.21" y="222.61" width="7.74" height="6.46" fill="#ee8e2c"/>
<rect x="122.90" y="222.61" width="7.74" height="6.46" fill="#ee8e2c"/>
<rect x="130.59" y="222.61" width="7.74" height="6.46" fill="#de4e31"/>
<rect x="138.29" y="222.61" width="7.74" height="6.46" fill="#de4e31"/>
<rect x="145.98" y="222.61" width="7.74" height="6.46" fill="#f3b518"/>
<rect x="153.67" y="222.61" width="7.74" height="6.46" fill="#f5cc0c"/>
<rect x="45.97" y="229.02" width="7.74" height="6.46" fill="#ee8e2c"/>
<rect x="61.35" y="229.02" width="7.74" height="6.46" fill="#f3b518"/>
<rect x="92.13" y="229.02" width="7.74" height="6.46" fill="#f3b518"/>
<rect x="99.82" y="229.02" width="7.74" height="6.46" fill="#f3b518"/>
<rect x="107.51" y="229.02" width="7.74" height="6.46" fill="#ee8e2c"/>
<rect x="115.21" y="229.02" width="7.74" height="6.46" fill="#ee8e2c"/>
<rect x="122.90" y="229.02" width="7.74" height="6.46" fill="#ee8e2c"/>
<rect x="130.59" y="229.02" width="7.74" height="6.46" fill="#ee8e2c"/>
<rect x="138.29" y="229.02" width="7.74" height="6.46" fill="#ee8e2c"/>
<rect x="145.98" y="229.02" width="7.74" height="6.46" fill="#ee8e2c"/>
<rect x="15.19" y="235.43" width="7.74" height="6.46" fill="#ee8e2c"/>
<rect x="22.89" y="235.43" width="7.74" height="6.46" fill="#ee8e2c"/>
<rect x="45.97" y="235.43" width="7.74" height="6.46" fill="#f5cc0c"/>
<rect x="76.74" y="235.43" width="7.74" height="6.46" fill="#ee8e2c"/>
<rect x="84.43" y="235.43" width="7.74" height="6.46" fill="#ee8e2c"/>
<rect x="92.13" y="235.43" width="7.74" height="6.46" fill="#ee8e2c"/>
<rect x="99.82" y="235.43" width="7.74" height="6.46" fill="#ee8e2c"/>
<rect x="107.51" y="235.43" width="7.74" height="6.46" fill="#ee8e2c"/>
<rect x="115.21" y="235.43" width="7.74" height="6.46" fill="#f3b518"/>
<rect x="122.90" y="235.43" width="7.74" height="6.46" fill="#ee8e2c"/>
<rect x="130.59" y="235.43" width="7.74" height="6.46" fill="#ee8e2c"/>
<rect x="38.27" y="241.84" width="7.74" height="6.46" fill="#f3b518"/>
<rect x="45.97" y="241.84" width="7.74" height="6.46" fill="#de4e31"/>
<rect x="53.66" y="241.84" width="7.74" height="6.46" fill="#ee8e2c"/>
<rect x="61.35" y="241.84" width="7.74" height="6.46" fill="#ee8e2c"/>
<rect x="69.05" y="241.84" width="7.74" height="6.46" fill="#ee8e2c"/>
<rect x="107.51" y="241.84" width="7.74" height="6.46" fill="#f3b518"/>
<rect x="122.90" y="241.84" width="7.74" height="6.46" fill="#f5cc0c"/>
<rect x="138.29" y="241.84" width="7.74" height="6.46" fill="#de4e31"/>
<rect x="145.98" y="241.84" width="7.74" height="6.46" fill="#de4e31"/>
<rect x="153.67" y="241.84" width="7.74" height="6.46" fill="#de4e31"/>
<rect x="38.27" y="248.26" width="7.74" height="6.46" fill="#f5cc0c"/>
<rect x="45.97" y="248.26" width="7.74" height="6.46" fill="#ee8e2c"/>
<rect x="69.05" y="248.26" width="7.74" height="6.46" fill="#f3b518"/>
<rect x="76.74" y="248.26" width="7.74" height="6.46" fill="#f5cc0c"/>
<rect x="92.13" y="248.26" width="7.74" height="6.46" fill="#ee8e2c"/>
<rect x="122.90" y="248.26" width="7.74" height="6.46" fill="#f5cc0c"/>
<rect x="215.22" y="248.26" width="7.74" height="6.46" fill="#f3b518"/>
<rect x="230.61" y="248.26" width="7.74" height="6.46" fill="#f3b518"/>
<rect x="45.97" y="254.67" width="7.74" height="6.46" fill="#de4e31"/>
<rect x="53.66" y="254.67" width="7.74" height="6.46" fill="#f3b518"/>
<rect x="69.05" y="254.67" width="7.74" height="6.46" fill="#ee8e2c"/>
<rect x="84.43" y="254.67" width="7.74" height="6.46" fill="#f3b518"/>
<rect x="138.29" y="254.67" width="7.74" height="6.46" fill="#ee8e2c"/>
<rect x="192.14" y="254.67" width="7.74" height="6.46" fill="#f5cc0c"/>
<rect x="45.97" y="261.08" width="7.74" height="6.46" fill="#ee8e2c"/>
<rect x="61.35" y="261.08" width="7.74" height="6.46" fill="#ee8e2c"/>
<rect x="76.74" y="261.08" width="7.74" height="6.46" fill="#f3b518"/>
<rect x="84.43" y="261.08" width="7.74" height="6.46" fill="#ee8e2c"/>
<rect x="92.13" y="261.08" width="7.74" height="6.46" fill="#ee8e2c"/>
<rect x="99.82" y="261.08" width="7.74" height="6.46" fill="#ee8e2c"/>
<rect x="107.51" y="261.08" width="7.74" height="6.46" fill="#de4e31"/>
<rect x="138.29" y="261.08" width="7.74" height="6.46" fill="#f5cc0c"/>
<rect x="153.67" y="261.08" width="7.74" height="6.46" fill="#f3b518"/>
<rect x="169.06" y="261.08" width="7.74" height="6.46" fill="#de4e31"/>
<rect x="230.61" y="261.08" width="7.74" height="6.46" fill="#f5cc0c"/>
<rect x="45.97" y="267.49" width="7.74" height="6.46" fill="#ee8e2c"/>
<rect x="76.74" y="267.49" width="7.74" height="6.46" fill="#f3b518"/>
<rect x="92.13" y="267.49" width="7.74" height="6.46" fill="#f3b518"/>
<rect x="107.51" y="267.49" width="7.74" height="6.46" fill="#ee8e2c"/>
<rect x="115.21" y="267.49" width="7.74" height="6.46" fill="#f3b518"/>
<rect x="122.90" y="267.49" width="7.74" height="6.46" fill="#f3b518"/>
<rect x="130.59" y="267.49" width="7.74" height="6.46" fill="#de4e31"/>
<rect x="145.98" y="267.49" width="7.74" height="6.46" fill="#ee8e2c"/>
<rect x="169.06" y="267.49" width="7.74" height="6.46" fill="#ee8e2c"/>
<rect x="176.75" y="267.49" width="7.74" height="6.46" fill="#ee8e2c"/>
<rect x="192.14" y="267.49" width="7.74" height="6.46" fill="#ee8e2c"/>
<rect x="199.83" y="267.49" width="7.74" height="6.46" fill="#ee8e2c"/>
<rect x="207.53" y="267.49" width="7.74" height="6.46" fill="#ee8e2c"/>
<rect x="222.91" y="267.49" width="7.74" height="6.46" fill="#de4e31"/>
<rect x="7.50" y="158.50" width="230.80" height="115.40" fill="none" stroke="#6a6a6a" stroke-width="0.9"/>
<rect x="246.40" y="158.60" width="230.90" height="115.00" fill="#fff"/>
<line x1="246.40" x2="477.30" y1="165.79" y2="165.79" stroke="#a9a9a9" stroke-width="1"/>
<line x1="246.40" x2="477.30" y1="172.97" y2="172.97" stroke="#a9a9a9" stroke-width="1"/>
<line x1="246.40" x2="477.30" y1="180.16" y2="180.16" stroke="#a9a9a9" stroke-width="1"/>
<line x1="246.40" x2="477.30" y1="187.35" y2="187.35" stroke="#a9a9a9" stroke-width="1"/>
<line x1="246.40" x2="477.30" y1="194.54" y2="194.54" stroke="#a9a9a9" stroke-width="1"/>
<line x1="246.40" x2="477.30" y1="201.73" y2="201.73" stroke="#a9a9a9" stroke-width="1"/>
<line x1="246.40" x2="477.30" y1="208.91" y2="208.91" stroke="#a9a9a9" stroke-width="1"/>
<line x1="246.40" x2="477.30" y1="216.10" y2="216.10" stroke="#a9a9a9" stroke-width="1"/>
<line x1="246.40" x2="477.30" y1="223.29" y2="223.29" stroke="#a9a9a9" stroke-width="1"/>
<line x1="246.40" x2="477.30" y1="230.48" y2="230.48" stroke="#a9a9a9" stroke-width="1"/>
<line x1="246.40" x2="477.30" y1="237.66" y2="237.66" stroke="#a9a9a9" stroke-width="1"/>
<line x1="246.40" x2="477.30" y1="244.85" y2="244.85" stroke="#a9a9a9" stroke-width="1"/>
<line x1="246.40" x2="477.30" y1="252.04" y2="252.04" stroke="#a9a9a9" stroke-width="1"/>
<line x1="246.40" x2="477.30" y1="259.23" y2="259.23" stroke="#a9a9a9" stroke-width="1"/>
<line x1="246.40" x2="477.30" y1="266.41" y2="266.41" stroke="#a9a9a9" stroke-width="1"/>
<rect x="269.49" y="158.60" width="7.75" height="7.24" fill="#e97d2a"/>
<rect x="284.88" y="158.60" width="7.75" height="7.24" fill="#f5cc0c"/>
<rect x="292.58" y="158.60" width="7.75" height="7.24" fill="#de4e31"/>
<rect x="300.28" y="158.60" width="7.75" height="7.24" fill="#de4e31"/>
<rect x="307.97" y="158.60" width="7.75" height="7.24" fill="#de4e31"/>
<rect x="315.67" y="158.60" width="7.75" height="7.24" fill="#de4e31"/>
<rect x="323.37" y="158.60" width="7.75" height="7.24" fill="#de4e31"/>
<rect x="338.76" y="158.60" width="7.75" height="7.24" fill="#de4e31"/>
<rect x="354.15" y="158.60" width="7.75" height="7.24" fill="#f5cc0c"/>
<rect x="361.85" y="158.60" width="7.75" height="7.24" fill="#d7323a"/>
<rect x="369.55" y="158.60" width="7.75" height="7.24" fill="#de4e31"/>
<rect x="377.24" y="158.60" width="7.75" height="7.24" fill="#e97d2a"/>
<rect x="392.64" y="158.60" width="7.75" height="7.24" fill="#de4e31"/>
<rect x="292.58" y="165.79" width="7.75" height="7.24" fill="#f3b518"/>
<rect x="307.97" y="165.79" width="7.75" height="7.24" fill="#e97d2a"/>
<rect x="315.67" y="165.79" width="7.75" height="7.24" fill="#de4e31"/>
<rect x="323.37" y="165.79" width="7.75" height="7.24" fill="#d7323a"/>
<rect x="331.06" y="165.79" width="7.75" height="7.24" fill="#d7323a"/>
<rect x="338.76" y="165.79" width="7.75" height="7.24" fill="#d7323a"/>
<rect x="346.46" y="165.79" width="7.75" height="7.24" fill="#de4e31"/>
<rect x="354.15" y="165.79" width="7.75" height="7.24" fill="#e97d2a"/>
<rect x="361.85" y="165.79" width="7.75" height="7.24" fill="#de4e31"/>
<rect x="369.55" y="165.79" width="7.75" height="7.24" fill="#de4e31"/>
<rect x="377.24" y="165.79" width="7.75" height="7.24" fill="#de4e31"/>
<rect x="384.94" y="165.79" width="7.75" height="7.24" fill="#de4e31"/>
<rect x="392.64" y="165.79" width="7.75" height="7.24" fill="#d7323a"/>
<rect x="400.33" y="165.79" width="7.75" height="7.24" fill="#de4e31"/>
<rect x="408.03" y="165.79" width="7.75" height="7.24" fill="#de4e31"/>
<rect x="431.12" y="165.79" width="7.75" height="7.24" fill="#f3b518"/>
<rect x="284.88" y="172.97" width="7.75" height="7.24" fill="#e97d2a"/>
<rect x="292.58" y="172.97" width="7.75" height="7.24" fill="#e97d2a"/>
<rect x="300.28" y="172.97" width="7.75" height="7.24" fill="#de4e31"/>
<rect x="307.97" y="172.97" width="7.75" height="7.24" fill="#de4e31"/>
<rect x="315.67" y="172.97" width="7.75" height="7.24" fill="#d7323a"/>
<rect x="323.37" y="172.97" width="7.75" height="7.24" fill="#d7323a"/>
<rect x="331.06" y="172.97" width="7.75" height="7.24" fill="#de4e31"/>
<rect x="338.76" y="172.97" width="7.75" height="7.24" fill="#de4e31"/>
<rect x="346.46" y="172.97" width="7.75" height="7.24" fill="#de4e31"/>
<rect x="354.15" y="172.97" width="7.75" height="7.24" fill="#d7323a"/>
<rect x="361.85" y="172.97" width="7.75" height="7.24" fill="#d7323a"/>
<rect x="369.55" y="172.97" width="7.75" height="7.24" fill="#d7323a"/>
<rect x="377.24" y="172.97" width="7.75" height="7.24" fill="#de4e31"/>
<rect x="384.94" y="172.97" width="7.75" height="7.24" fill="#de4e31"/>
<rect x="392.64" y="172.97" width="7.75" height="7.24" fill="#e97d2a"/>
<rect x="400.33" y="172.97" width="7.75" height="7.24" fill="#f3b518"/>
<rect x="408.03" y="172.97" width="7.75" height="7.24" fill="#de4e31"/>
<rect x="431.12" y="172.97" width="7.75" height="7.24" fill="#e97d2a"/>
<rect x="269.49" y="180.16" width="7.75" height="7.24" fill="#e97d2a"/>
<rect x="292.58" y="180.16" width="7.75" height="7.24" fill="#de4e31"/>
<rect x="307.97" y="180.16" width="7.75" height="7.24" fill="#de4e31"/>
<rect x="315.67" y="180.16" width="7.75" height="7.24" fill="#d7323a"/>
<rect x="323.37" y="180.16" width="7.75" height="7.24" fill="#de4e31"/>
<rect x="331.06" y="180.16" width="7.75" height="7.24" fill="#e97d2a"/>
<rect x="338.76" y="180.16" width="7.75" height="7.24" fill="#de4e31"/>
<rect x="346.46" y="180.16" width="7.75" height="7.24" fill="#de4e31"/>
<rect x="354.15" y="180.16" width="7.75" height="7.24" fill="#d7323a"/>
<rect x="361.85" y="180.16" width="7.75" height="7.24" fill="#d7323a"/>
<rect x="369.55" y="180.16" width="7.75" height="7.24" fill="#d7323a"/>
<rect x="377.24" y="180.16" width="7.75" height="7.24" fill="#de4e31"/>
<rect x="384.94" y="180.16" width="7.75" height="7.24" fill="#e97d2a"/>
<rect x="392.64" y="180.16" width="7.75" height="7.24" fill="#d7323a"/>
<rect x="400.33" y="180.16" width="7.75" height="7.24" fill="#de4e31"/>
<rect x="415.73" y="180.16" width="7.75" height="7.24" fill="#de4e31"/>
<rect x="423.42" y="180.16" width="7.75" height="7.24" fill="#de4e31"/>
<rect x="284.88" y="187.35" width="7.75" height="7.24" fill="#e97d2a"/>
<rect x="292.58" y="187.35" width="7.75" height="7.24" fill="#de4e31"/>
<rect x="300.28" y="187.35" width="7.75" height="7.24" fill="#de4e31"/>
<rect x="307.97" y="187.35" width="7.75" height="7.24" fill="#de4e31"/>
<rect x="315.67" y="187.35" width="7.75" height="7.24" fill="#de4e31"/>
<rect x="323.37" y="187.35" width="7.75" height="7.24" fill="#d7323a"/>
<rect x="331.06" y="187.35" width="7.75" height="7.24" fill="#d7323a"/>
<rect x="338.76" y="187.35" width="7.75" height="7.24" fill="#de4e31"/>
<rect x="346.46" y="187.35" width="7.75" height="7.24" fill="#de4e31"/>
<rect x="354.15" y="187.35" width="7.75" height="7.24" fill="#f5cc0c"/>
<rect x="361.85" y="187.35" width="7.75" height="7.24" fill="#f3b518"/>
<rect x="369.55" y="187.35" width="7.75" height="7.24" fill="#e97d2a"/>
<rect x="377.24" y="187.35" width="7.75" height="7.24" fill="#e97d2a"/>
<rect x="384.94" y="187.35" width="7.75" height="7.24" fill="#e97d2a"/>
<rect x="392.64" y="187.35" width="7.75" height="7.24" fill="#de4e31"/>
<rect x="400.33" y="187.35" width="7.75" height="7.24" fill="#de4e31"/>
<rect x="431.12" y="187.35" width="7.75" height="7.24" fill="#de4e31"/>
<rect x="300.28" y="194.54" width="7.75" height="7.24" fill="#d7323a"/>
<rect x="307.97" y="194.54" width="7.75" height="7.24" fill="#d7323a"/>
<rect x="315.67" y="194.54" width="7.75" height="7.24" fill="#de4e31"/>
<rect x="323.37" y="194.54" width="7.75" height="7.24" fill="#e97d2a"/>
<rect x="331.06" y="194.54" width="7.75" height="7.24" fill="#e97d2a"/>
<rect x="338.76" y="194.54" width="7.75" height="7.24" fill="#d7323a"/>
<rect x="346.46" y="194.54" width="7.75" height="7.24" fill="#d7323a"/>
<rect x="354.15" y="194.54" width="7.75" height="7.24" fill="#de4e31"/>
<rect x="361.85" y="194.54" width="7.75" height="7.24" fill="#de4e31"/>
<rect x="369.55" y="194.54" width="7.75" height="7.24" fill="#e97d2a"/>
<rect x="377.24" y="194.54" width="7.75" height="7.24" fill="#e97d2a"/>
<rect x="384.94" y="194.54" width="7.75" height="7.24" fill="#e97d2a"/>
<rect x="392.64" y="194.54" width="7.75" height="7.24" fill="#de4e31"/>
<rect x="400.33" y="194.54" width="7.75" height="7.24" fill="#f3b518"/>
<rect x="408.03" y="194.54" width="7.75" height="7.24" fill="#e97d2a"/>
<rect x="431.12" y="194.54" width="7.75" height="7.24" fill="#de4e31"/>
<rect x="246.40" y="201.73" width="7.75" height="7.24" fill="#e97d2a"/>
<rect x="254.10" y="201.73" width="7.75" height="7.24" fill="#e97d2a"/>
<rect x="269.49" y="201.73" width="7.75" height="7.24" fill="#da4034"/>
<rect x="284.88" y="201.73" width="7.75" height="7.24" fill="#de4e31"/>
<rect x="292.58" y="201.73" width="7.75" height="7.24" fill="#de4e31"/>
<rect x="300.28" y="201.73" width="7.75" height="7.24" fill="#de4e31"/>
<rect x="307.97" y="201.73" width="7.75" height="7.24" fill="#d7323a"/>
<rect x="315.67" y="201.73" width="7.75" height="7.24" fill="#d7323a"/>
<rect x="323.37" y="201.73" width="7.75" height="7.24" fill="#d7323a"/>
<rect x="331.06" y="201.73" width="7.75" height="7.24" fill="#de4e31"/>
<rect x="338.76" y="201.73" width="7.75" height="7.24" fill="#de4e31"/>
<rect x="346.46" y="201.73" width="7.75" height="7.24" fill="#de4e31"/>
<rect x="354.15" y="201.73" width="7.75" height="7.24" fill="#e97d2a"/>
<rect x="361.85" y="201.73" width="7.75" height="7.24" fill="#de4e31"/>
<rect x="369.55" y="201.73" width="7.75" height="7.24" fill="#de4e31"/>
<rect x="377.24" y="201.73" width="7.75" height="7.24" fill="#e97d2a"/>
<rect x="384.94" y="201.73" width="7.75" height="7.24" fill="#e97d2a"/>
<rect x="408.03" y="201.73" width="7.75" height="7.24" fill="#f3b518"/>
<rect x="423.42" y="201.73" width="7.75" height="7.24" fill="#e97d2a"/>
<rect x="277.19" y="208.91" width="7.75" height="7.24" fill="#e97d2a"/>
<rect x="284.88" y="208.91" width="7.75" height="7.24" fill="#e97d2a"/>
<rect x="292.58" y="208.91" width="7.75" height="7.24" fill="#e97d2a"/>
<rect x="300.28" y="208.91" width="7.75" height="7.24" fill="#e97d2a"/>
<rect x="307.97" y="208.91" width="7.75" height="7.24" fill="#d7323a"/>
<rect x="315.67" y="208.91" width="7.75" height="7.24" fill="#d7323a"/>
<rect x="323.37" y="208.91" width="7.75" height="7.24" fill="#d7323a"/>
<rect x="331.06" y="208.91" width="7.75" height="7.24" fill="#de4e31"/>
<rect x="338.76" y="208.91" width="7.75" height="7.24" fill="#de4e31"/>
<rect x="346.46" y="208.91" width="7.75" height="7.24" fill="#d7323a"/>
<rect x="354.15" y="208.91" width="7.75" height="7.24" fill="#d7323a"/>
<rect x="361.85" y="208.91" width="7.75" height="7.24" fill="#de4e31"/>
<rect x="369.55" y="208.91" width="7.75" height="7.24" fill="#de4e31"/>
<rect x="377.24" y="208.91" width="7.75" height="7.24" fill="#e97d2a"/>
<rect x="384.94" y="208.91" width="7.75" height="7.24" fill="#e97d2a"/>
<rect x="392.64" y="208.91" width="7.75" height="7.24" fill="#de4e31"/>
<rect x="400.33" y="208.91" width="7.75" height="7.24" fill="#de4e31"/>
<rect x="408.03" y="208.91" width="7.75" height="7.24" fill="#f3b518"/>
<rect x="261.79" y="216.10" width="7.75" height="7.24" fill="#e97d2a"/>
<rect x="277.19" y="216.10" width="7.75" height="7.24" fill="#f3b518"/>
<rect x="284.88" y="216.10" width="7.75" height="7.24" fill="#de4e31"/>
<rect x="292.58" y="216.10" width="7.75" height="7.24" fill="#de4e31"/>
<rect x="300.28" y="216.10" width="7.75" height="7.24" fill="#d7323a"/>
<rect x="307.97" y="216.10" width="7.75" height="7.24" fill="#d7323a"/>
<rect x="315.67" y="216.10" width="7.75" height="7.24" fill="#d7323a"/>
<rect x="323.37" y="216.10" width="7.75" height="7.24" fill="#d7323a"/>
<rect x="331.06" y="216.10" width="7.75" height="7.24" fill="#de4e31"/>
<rect x="338.76" y="216.10" width="7.75" height="7.24" fill="#de4e31"/>
<rect x="346.46" y="216.10" width="7.75" height="7.24" fill="#de4e31"/>
<rect x="354.15" y="216.10" width="7.75" height="7.24" fill="#de4e31"/>
<rect x="361.85" y="216.10" width="7.75" height="7.24" fill="#de4e31"/>
<rect x="369.55" y="216.10" width="7.75" height="7.24" fill="#e97d2a"/>
<rect x="377.24" y="216.10" width="7.75" height="7.24" fill="#de4e31"/>
<rect x="384.94" y="216.10" width="7.75" height="7.24" fill="#e97d2a"/>
<rect x="269.49" y="223.29" width="7.75" height="7.24" fill="#de4e31"/>
<rect x="292.58" y="223.29" width="7.75" height="7.24" fill="#d7323a"/>
<rect x="307.97" y="223.29" width="7.75" height="7.24" fill="#de4e31"/>
<rect x="315.67" y="223.29" width="7.75" height="7.24" fill="#de4e31"/>
<rect x="323.37" y="223.29" width="7.75" height="7.24" fill="#d7323a"/>
<rect x="331.06" y="223.29" width="7.75" height="7.24" fill="#de4e31"/>
<rect x="338.76" y="223.29" width="7.75" height="7.24" fill="#de4e31"/>
<rect x="346.46" y="223.29" width="7.75" height="7.24" fill="#d7323a"/>
<rect x="354.15" y="223.29" width="7.75" height="7.24" fill="#de4e31"/>
<rect x="361.85" y="223.29" width="7.75" height="7.24" fill="#de4e31"/>
<rect x="369.55" y="223.29" width="7.75" height="7.24" fill="#de4e31"/>
<rect x="377.24" y="223.29" width="7.75" height="7.24" fill="#de4e31"/>
<rect x="392.64" y="223.29" width="7.75" height="7.24" fill="#de4e31"/>
<rect x="400.33" y="223.29" width="7.75" height="7.24" fill="#de4e31"/>
<rect x="277.19" y="230.48" width="7.75" height="7.24" fill="#f5cc0c"/>
<rect x="284.88" y="230.48" width="7.75" height="7.24" fill="#e97d2a"/>
<rect x="292.58" y="230.48" width="7.75" height="7.24" fill="#de4e31"/>
<rect x="300.28" y="230.48" width="7.75" height="7.24" fill="#d7323a"/>
<rect x="307.97" y="230.48" width="7.75" height="7.24" fill="#d7323a"/>
<rect x="315.67" y="230.48" width="7.75" height="7.24" fill="#de4e31"/>
<rect x="323.37" y="230.48" width="7.75" height="7.24" fill="#de4e31"/>
<rect x="331.06" y="230.48" width="7.75" height="7.24" fill="#de4e31"/>
<rect x="338.76" y="230.48" width="7.75" height="7.24" fill="#de4e31"/>
<rect x="346.46" y="230.48" width="7.75" height="7.24" fill="#de4e31"/>
<rect x="354.15" y="230.48" width="7.75" height="7.24" fill="#de4e31"/>
<rect x="361.85" y="230.48" width="7.75" height="7.24" fill="#de4e31"/>
<rect x="369.55" y="230.48" width="7.75" height="7.24" fill="#de4e31"/>
<rect x="377.24" y="230.48" width="7.75" height="7.24" fill="#de4e31"/>
<rect x="384.94" y="230.48" width="7.75" height="7.24" fill="#e97d2a"/>
<rect x="415.73" y="230.48" width="7.75" height="7.24" fill="#e97d2a"/>
<rect x="284.88" y="237.66" width="7.75" height="7.24" fill="#f3b518"/>
<rect x="292.58" y="237.66" width="7.75" height="7.24" fill="#de4e31"/>
<rect x="300.28" y="237.66" width="7.75" height="7.24" fill="#de4e31"/>
<rect x="307.97" y="237.66" width="7.75" height="7.24" fill="#de4e31"/>
<rect x="315.67" y="237.66" width="7.75" height="7.24" fill="#de4e31"/>
<rect x="323.37" y="237.66" width="7.75" height="7.24" fill="#de4e31"/>
<rect x="331.06" y="237.66" width="7.75" height="7.24" fill="#de4e31"/>
<rect x="338.76" y="237.66" width="7.75" height="7.24" fill="#de4e31"/>
<rect x="346.46" y="237.66" width="7.75" height="7.24" fill="#de4e31"/>
<rect x="354.15" y="237.66" width="7.75" height="7.24" fill="#de4e31"/>
<rect x="361.85" y="237.66" width="7.75" height="7.24" fill="#d7323a"/>
<rect x="369.55" y="237.66" width="7.75" height="7.24" fill="#de4e31"/>
<rect x="377.24" y="237.66" width="7.75" height="7.24" fill="#de4e31"/>
<rect x="384.94" y="237.66" width="7.75" height="7.24" fill="#de4e31"/>
<rect x="392.64" y="237.66" width="7.75" height="7.24" fill="#de4e31"/>
<rect x="431.12" y="237.66" width="7.75" height="7.24" fill="#de4e31"/>
<rect x="246.40" y="244.85" width="7.75" height="7.24" fill="#e97d2a"/>
<rect x="261.79" y="244.85" width="7.75" height="7.24" fill="#e97d2a"/>
<rect x="269.49" y="244.85" width="7.75" height="7.24" fill="#de4e31"/>
<rect x="277.19" y="244.85" width="7.75" height="7.24" fill="#de4e31"/>
<rect x="284.88" y="244.85" width="7.75" height="7.24" fill="#de4e31"/>
<rect x="292.58" y="244.85" width="7.75" height="7.24" fill="#de4e31"/>
<rect x="300.28" y="244.85" width="7.75" height="7.24" fill="#de4e31"/>
<rect x="307.97" y="244.85" width="7.75" height="7.24" fill="#de4e31"/>
<rect x="315.67" y="244.85" width="7.75" height="7.24" fill="#d7323a"/>
<rect x="323.37" y="244.85" width="7.75" height="7.24" fill="#d7323a"/>
<rect x="331.06" y="244.85" width="7.75" height="7.24" fill="#d7323a"/>
<rect x="338.76" y="244.85" width="7.75" height="7.24" fill="#d7323a"/>
<rect x="346.46" y="244.85" width="7.75" height="7.24" fill="#d7323a"/>
<rect x="354.15" y="244.85" width="7.75" height="7.24" fill="#d7323a"/>
<rect x="369.55" y="244.85" width="7.75" height="7.24" fill="#e97d2a"/>
<rect x="392.64" y="244.85" width="7.75" height="7.24" fill="#e97d2a"/>
<rect x="415.73" y="244.85" width="7.75" height="7.24" fill="#e97d2a"/>
<rect x="431.12" y="244.85" width="7.75" height="7.24" fill="#e97d2a"/>
<rect x="277.19" y="252.04" width="7.75" height="7.24" fill="#e97d2a"/>
<rect x="284.88" y="252.04" width="7.75" height="7.24" fill="#de4e31"/>
<rect x="292.58" y="252.04" width="7.75" height="7.24" fill="#de4e31"/>
<rect x="300.28" y="252.04" width="7.75" height="7.24" fill="#de4e31"/>
<rect x="307.97" y="252.04" width="7.75" height="7.24" fill="#de4e31"/>
<rect x="315.67" y="252.04" width="7.75" height="7.24" fill="#de4e31"/>
<rect x="323.37" y="252.04" width="7.75" height="7.24" fill="#d7323a"/>
<rect x="331.06" y="252.04" width="7.75" height="7.24" fill="#de4e31"/>
<rect x="338.76" y="252.04" width="7.75" height="7.24" fill="#de4e31"/>
<rect x="346.46" y="252.04" width="7.75" height="7.24" fill="#de4e31"/>
<rect x="354.15" y="252.04" width="7.75" height="7.24" fill="#de4e31"/>
<rect x="361.85" y="252.04" width="7.75" height="7.24" fill="#de4e31"/>
<rect x="369.55" y="252.04" width="7.75" height="7.24" fill="#de4e31"/>
<rect x="377.24" y="252.04" width="7.75" height="7.24" fill="#de4e31"/>
<rect x="269.49" y="259.23" width="7.75" height="7.24" fill="#e97d2a"/>
<rect x="277.19" y="259.23" width="7.75" height="7.24" fill="#de4e31"/>
<rect x="284.88" y="259.23" width="7.75" height="7.24" fill="#de4e31"/>
<rect x="292.58" y="259.23" width="7.75" height="7.24" fill="#de4e31"/>
<rect x="300.28" y="259.23" width="7.75" height="7.24" fill="#de4e31"/>
<rect x="307.97" y="259.23" width="7.75" height="7.24" fill="#de4e31"/>
<rect x="315.67" y="259.23" width="7.75" height="7.24" fill="#de4e31"/>
<rect x="323.37" y="259.23" width="7.75" height="7.24" fill="#e97d2a"/>
<rect x="331.06" y="259.23" width="7.75" height="7.24" fill="#e97d2a"/>
<rect x="338.76" y="259.23" width="7.75" height="7.24" fill="#e97d2a"/>
<rect x="346.46" y="259.23" width="7.75" height="7.24" fill="#de4e31"/>
<rect x="354.15" y="259.23" width="7.75" height="7.24" fill="#de4e31"/>
<rect x="361.85" y="259.23" width="7.75" height="7.24" fill="#e97d2a"/>
<rect x="461.91" y="259.23" width="7.75" height="7.24" fill="#f3b518"/>
<rect x="269.49" y="266.41" width="7.75" height="7.24" fill="#e97d2a"/>
<rect x="292.58" y="266.41" width="7.75" height="7.24" fill="#e97d2a"/>
<rect x="300.28" y="266.41" width="7.75" height="7.24" fill="#e97d2a"/>
<rect x="307.97" y="266.41" width="7.75" height="7.24" fill="#de4e31"/>
<rect x="315.67" y="266.41" width="7.75" height="7.24" fill="#de4e31"/>
<rect x="323.37" y="266.41" width="7.75" height="7.24" fill="#e97d2a"/>
<rect x="331.06" y="266.41" width="7.75" height="7.24" fill="#e97d2a"/>
<rect x="346.46" y="266.41" width="7.75" height="7.24" fill="#f3b518"/>
<rect x="354.15" y="266.41" width="7.75" height="7.24" fill="#f3b518"/>
<rect x="246.40" y="158.60" width="230.90" height="115.00" fill="none" stroke="#6a6a6a" stroke-width="0.9"/>

<defs>
<linearGradient id="cbg" x1="0" y1="0" x2="0" y2="1">
<stop offset="0" stop-color="#d62a38"/>
<stop offset="0.128" stop-color="#d83a35"/>
<stop offset="0.25" stop-color="#dc4a30"/>
<stop offset="0.374" stop-color="#e2622c"/>
<stop offset="0.5" stop-color="#ea7e27"/>
<stop offset="0.623" stop-color="#f09a20"/>
<stop offset="0.747" stop-color="#f3b516"/>
<stop offset="0.874" stop-color="#f5cc08"/>
<stop offset="0.93" stop-color="#f6d404"/>
<stop offset="0.958" stop-color="#f8de3a"/>
<stop offset="0.978" stop-color="#fcf0b0"/>
<stop offset="0.992" stop-color="#ffffff"/>
<stop offset="1" stop-color="#ffffff"/>
</linearGradient>
</defs>
<rect x="482" y="38.4" width="10.2" height="233" fill="url(#cbg)" stroke="#5a4a48" stroke-width="0.7"/>
<text x="496.6" y="41.9" class="tk">3,000</text>
<line x1="482" x2="483.6" y1="68.2" y2="68.2" stroke="#5a2a20" stroke-width="0.7"/>
<line x1="490.6" x2="492.2" y1="68.2" y2="68.2" stroke="#5a2a20" stroke-width="0.7"/>
<text x="496.6" y="70.3" class="tk">1,100</text>
<line x1="482" x2="483.6" y1="96.8" y2="96.8" stroke="#5a2a20" stroke-width="0.7"/>
<line x1="490.6" x2="492.2" y1="96.8" y2="96.8" stroke="#5a2a20" stroke-width="0.7"/>
<text x="496.6" y="98.9" class="tk">400</text>
<line x1="482" x2="483.6" y1="125.5" y2="125.5" stroke="#5a2a20" stroke-width="0.7"/>
<line x1="490.6" x2="492.2" y1="125.5" y2="125.5" stroke="#5a2a20" stroke-width="0.7"/>
<text x="496.6" y="127.6" class="tk">150</text>
<line x1="482" x2="483.6" y1="154.9" y2="154.9" stroke="#5a2a20" stroke-width="0.7"/>
<line x1="490.6" x2="492.2" y1="154.9" y2="154.9" stroke="#5a2a20" stroke-width="0.7"/>
<text x="496.6" y="157.0" class="tk">55</text>
<line x1="482" x2="483.6" y1="183.6" y2="183.6" stroke="#5a2a20" stroke-width="0.7"/>
<line x1="490.6" x2="492.2" y1="183.6" y2="183.6" stroke="#5a2a20" stroke-width="0.7"/>
<text x="496.6" y="185.7" class="tk">20</text>
<line x1="482" x2="483.6" y1="212.4" y2="212.4" stroke="#5a2a20" stroke-width="0.7"/>
<line x1="490.6" x2="492.2" y1="212.4" y2="212.4" stroke="#5a2a20" stroke-width="0.7"/>
<text x="496.6" y="214.5" class="tk">7.4</text>
<line x1="482" x2="483.6" y1="242.0" y2="242.0" stroke="#5a2a20" stroke-width="0.7"/>
<line x1="490.6" x2="492.2" y1="242.0" y2="242.0" stroke="#5a2a20" stroke-width="0.7"/>
<text x="496.6" y="244.1" class="tk">2.7</text>
<text x="496.6" y="273.1" class="tk">0</text>
<g shape-rendering="auto">

<text x="37.7" y="20.6" class="ti" textLength="173.6" lengthAdjust="spacingAndGlyphs">Prophylactic before filtering (42.9 epithelial cells/mm<tspan class="sup" dy="-2.4">2</tspan><tspan dy="2.4">)</tspan></text>
<text x="291.9" y="20.6" class="ti" textLength="145" lengthAdjust="spacingAndGlyphs">IDC before filtering (66.2 epithelial cells/mm<tspan class="sup" dy="-2.4">2</tspan><tspan dy="2.4">)</tspan></text>
<text x="42.5" y="153.6" class="ti" textLength="167.9" lengthAdjust="spacingAndGlyphs">Prophylactic after filtering (1.65 epithelial cells/mm<tspan class="sup" dy="-2.4">2</tspan><tspan dy="2.4">)</tspan></text>
<text x="289.2" y="153.6" class="ti" textLength="139.1" lengthAdjust="spacingAndGlyphs">IDC after filtering (33.8 epithelial cells/mm<tspan class="sup" dy="-2.4">2</tspan><tspan dy="2.4">)</tspan></text>
<text x="479.8" y="30.8" class="cl" textLength="33.5" lengthAdjust="spacingAndGlyphs">Cells/mm<tspan class="sup2" dy="-2.2">2</tspan></text>

</g>
<rect x="6.6" y="6.6" width="506.7" height="273.3" fill="none" stroke="#7c7c7c" stroke-width="1.3"/>
</svg>
</body></html>
